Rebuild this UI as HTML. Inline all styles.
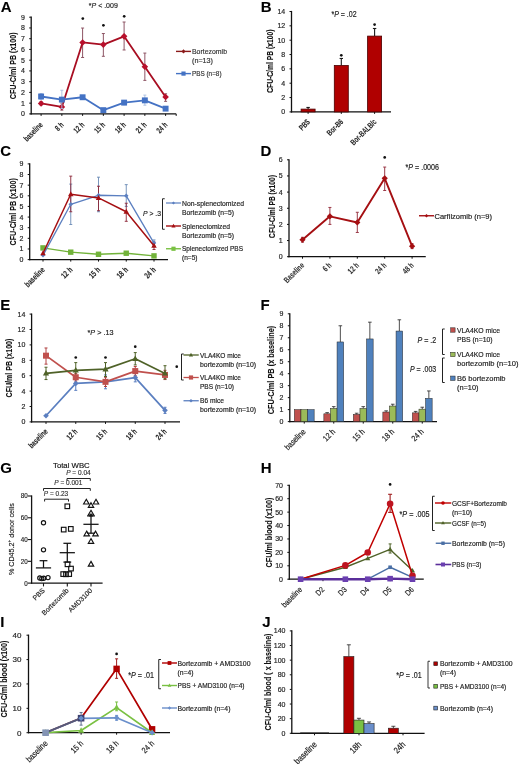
<!DOCTYPE html>
<html><head><meta charset="utf-8"><style>
html,body{margin:0;padding:0;background:#fff;}
svg{display:block;filter:blur(0.3px);}
text{font-family:"Liberation Sans", sans-serif;}
</style></head><body>
<svg width="520" height="764" viewBox="0 0 520 764">
<rect width="520" height="764" fill="#fff"/>
<line x1="31.20" y1="16.60" x2="31.20" y2="114.50" stroke="#111" stroke-width="1.3"/>
<line x1="30.60" y1="113.90" x2="176.20" y2="113.90" stroke="#111" stroke-width="1.3"/>
<line x1="29.20" y1="113.90" x2="31.20" y2="113.90" stroke="#111" stroke-width="1.0"/>
<text transform="translate(24.90,116.42)" font-size="7.0" fill="#262626" stroke="#262626" stroke-width="0.18" text-anchor="end">0</text>
<line x1="29.20" y1="103.16" x2="31.20" y2="103.16" stroke="#111" stroke-width="1.0"/>
<text transform="translate(24.90,105.68)" font-size="7.0" fill="#262626" stroke="#262626" stroke-width="0.18" text-anchor="end">1</text>
<line x1="29.20" y1="92.41" x2="31.20" y2="92.41" stroke="#111" stroke-width="1.0"/>
<text transform="translate(24.90,94.93)" font-size="7.0" fill="#262626" stroke="#262626" stroke-width="0.18" text-anchor="end">2</text>
<line x1="29.20" y1="81.67" x2="31.20" y2="81.67" stroke="#111" stroke-width="1.0"/>
<text transform="translate(24.90,84.19)" font-size="7.0" fill="#262626" stroke="#262626" stroke-width="0.18" text-anchor="end">3</text>
<line x1="29.20" y1="70.92" x2="31.20" y2="70.92" stroke="#111" stroke-width="1.0"/>
<text transform="translate(24.90,73.44)" font-size="7.0" fill="#262626" stroke="#262626" stroke-width="0.18" text-anchor="end">4</text>
<line x1="29.20" y1="60.18" x2="31.20" y2="60.18" stroke="#111" stroke-width="1.0"/>
<text transform="translate(24.90,62.70)" font-size="7.0" fill="#262626" stroke="#262626" stroke-width="0.18" text-anchor="end">5</text>
<line x1="29.20" y1="49.43" x2="31.20" y2="49.43" stroke="#111" stroke-width="1.0"/>
<text transform="translate(24.90,51.95)" font-size="7.0" fill="#262626" stroke="#262626" stroke-width="0.18" text-anchor="end">6</text>
<line x1="29.20" y1="38.69" x2="31.20" y2="38.69" stroke="#111" stroke-width="1.0"/>
<text transform="translate(24.90,41.21)" font-size="7.0" fill="#262626" stroke="#262626" stroke-width="0.18" text-anchor="end">7</text>
<line x1="29.20" y1="27.94" x2="31.20" y2="27.94" stroke="#111" stroke-width="1.0"/>
<text transform="translate(24.90,30.46)" font-size="7.0" fill="#262626" stroke="#262626" stroke-width="0.18" text-anchor="end">8</text>
<line x1="29.20" y1="17.20" x2="31.20" y2="17.20" stroke="#111" stroke-width="1.0"/>
<text transform="translate(24.90,19.72)" font-size="7.0" fill="#262626" stroke="#262626" stroke-width="0.18" text-anchor="end">9</text>
<line x1="41.10" y1="113.90" x2="41.10" y2="115.90" stroke="#111" stroke-width="1.0"/>
<line x1="61.85" y1="113.90" x2="61.85" y2="115.90" stroke="#111" stroke-width="1.0"/>
<line x1="82.60" y1="113.90" x2="82.60" y2="115.90" stroke="#111" stroke-width="1.0"/>
<line x1="103.35" y1="113.90" x2="103.35" y2="115.90" stroke="#111" stroke-width="1.0"/>
<line x1="124.10" y1="113.90" x2="124.10" y2="115.90" stroke="#111" stroke-width="1.0"/>
<line x1="144.85" y1="113.90" x2="144.85" y2="115.90" stroke="#111" stroke-width="1.0"/>
<line x1="165.60" y1="113.90" x2="165.60" y2="115.90" stroke="#111" stroke-width="1.0"/>
<line x1="176.20" y1="113.90" x2="176.20" y2="115.90" stroke="#111" stroke-width="1.0"/>
<text transform="translate(43.40,125.50) rotate(-45) scale(0.7,1)" font-size="8.3" fill="#1e1e1e" stroke="#1e1e1e" stroke-width="0.08" text-anchor="end" font-weight="bold">baseline</text>
<text transform="translate(64.15,125.50) rotate(-45) scale(0.7,1)" font-size="8.3" fill="#1e1e1e" stroke="#1e1e1e" stroke-width="0.08" text-anchor="end" font-weight="bold">8 h</text>
<text transform="translate(84.90,125.50) rotate(-45) scale(0.7,1)" font-size="8.3" fill="#1e1e1e" stroke="#1e1e1e" stroke-width="0.08" text-anchor="end" font-weight="bold">12 h</text>
<text transform="translate(105.65,125.50) rotate(-45) scale(0.7,1)" font-size="8.3" fill="#1e1e1e" stroke="#1e1e1e" stroke-width="0.08" text-anchor="end" font-weight="bold">15 h</text>
<text transform="translate(126.40,125.50) rotate(-45) scale(0.7,1)" font-size="8.3" fill="#1e1e1e" stroke="#1e1e1e" stroke-width="0.08" text-anchor="end" font-weight="bold">18 h</text>
<text transform="translate(147.15,125.50) rotate(-45) scale(0.7,1)" font-size="8.3" fill="#1e1e1e" stroke="#1e1e1e" stroke-width="0.08" text-anchor="end" font-weight="bold">21 h</text>
<text transform="translate(167.90,125.50) rotate(-45) scale(0.7,1)" font-size="8.3" fill="#1e1e1e" stroke="#1e1e1e" stroke-width="0.08" text-anchor="end" font-weight="bold">24 h</text>
<text transform="translate(16.20,65.80) rotate(-90)" font-size="8.2" fill="#111" stroke="#111" stroke-width="0.08" text-anchor="middle" font-weight="bold" textLength="66.80" lengthAdjust="spacingAndGlyphs">CFU-C/ml PB (x100)</text>
<text transform="translate(0.80,11.80)" font-size="15" fill="#000" stroke="#000" stroke-width="0.08" font-weight="bold">A</text>
<text transform="translate(88.80,7.80)" font-size="8" fill="#222" stroke="#222" stroke-width="0.18" textLength="29.00" lengthAdjust="spacingAndGlyphs">*<tspan font-style="italic">P</tspan> &lt; .009</text>
<line x1="41.10" y1="104.77" x2="41.10" y2="101.54" stroke="#8E5565" stroke-width="1.0"/>
<line x1="39.60" y1="104.77" x2="42.60" y2="104.77" stroke="#8E5565" stroke-width="1.0"/>
<line x1="39.60" y1="101.54" x2="42.60" y2="101.54" stroke="#8E5565" stroke-width="1.0"/>
<line x1="61.85" y1="110.14" x2="61.85" y2="103.16" stroke="#8E5565" stroke-width="1.0"/>
<line x1="60.35" y1="110.14" x2="63.35" y2="110.14" stroke="#8E5565" stroke-width="1.0"/>
<line x1="60.35" y1="103.16" x2="63.35" y2="103.16" stroke="#8E5565" stroke-width="1.0"/>
<line x1="82.60" y1="57.49" x2="82.60" y2="28.05" stroke="#8E5565" stroke-width="1.0"/>
<line x1="81.10" y1="57.49" x2="84.10" y2="57.49" stroke="#8E5565" stroke-width="1.0"/>
<line x1="81.10" y1="28.05" x2="84.10" y2="28.05" stroke="#8E5565" stroke-width="1.0"/>
<line x1="103.35" y1="56.31" x2="103.35" y2="33.53" stroke="#8E5565" stroke-width="1.0"/>
<line x1="101.85" y1="56.31" x2="104.85" y2="56.31" stroke="#8E5565" stroke-width="1.0"/>
<line x1="101.85" y1="33.53" x2="104.85" y2="33.53" stroke="#8E5565" stroke-width="1.0"/>
<line x1="124.10" y1="49.97" x2="124.10" y2="22.03" stroke="#8E5565" stroke-width="1.0"/>
<line x1="122.60" y1="49.97" x2="125.60" y2="49.97" stroke="#8E5565" stroke-width="1.0"/>
<line x1="122.60" y1="22.03" x2="125.60" y2="22.03" stroke="#8E5565" stroke-width="1.0"/>
<line x1="144.85" y1="80.38" x2="144.85" y2="53.09" stroke="#8E5565" stroke-width="1.0"/>
<line x1="143.35" y1="80.38" x2="146.35" y2="80.38" stroke="#8E5565" stroke-width="1.0"/>
<line x1="143.35" y1="53.09" x2="146.35" y2="53.09" stroke="#8E5565" stroke-width="1.0"/>
<line x1="165.60" y1="101.33" x2="165.60" y2="93.81" stroke="#8E5565" stroke-width="1.0"/>
<line x1="164.10" y1="101.33" x2="167.10" y2="101.33" stroke="#8E5565" stroke-width="1.0"/>
<line x1="164.10" y1="93.81" x2="167.10" y2="93.81" stroke="#8E5565" stroke-width="1.0"/>
<polyline points="41.10,103.48 61.85,106.92 82.60,42.45 103.35,44.60 124.10,36.33 144.85,66.73 165.60,97.03" fill="none" stroke="#A80E22" stroke-width="1.8" stroke-linejoin="round"/>
<path d="M41.10,100.18L44.40,103.48L41.10,106.78L37.80,103.48Z" fill="#B8102C"/>
<path d="M61.85,103.62L65.15,106.92L61.85,110.22L58.55,106.92Z" fill="#B8102C"/>
<path d="M82.60,39.15L85.90,42.45L82.60,45.75L79.30,42.45Z" fill="#B8102C"/>
<path d="M103.35,41.30L106.65,44.60L103.35,47.90L100.05,44.60Z" fill="#B8102C"/>
<path d="M124.10,33.03L127.40,36.33L124.10,39.63L120.80,36.33Z" fill="#B8102C"/>
<path d="M144.85,63.43L148.15,66.73L144.85,70.03L141.55,66.73Z" fill="#B8102C"/>
<path d="M165.60,93.73L168.90,97.03L165.60,100.33L162.30,97.03Z" fill="#B8102C"/>
<line x1="41.10" y1="99.40" x2="41.10" y2="93.49" stroke="#A8BDE0" stroke-width="0.9"/>
<line x1="39.60" y1="99.40" x2="42.60" y2="99.40" stroke="#A8BDE0" stroke-width="0.9"/>
<line x1="39.60" y1="93.49" x2="42.60" y2="93.49" stroke="#A8BDE0" stroke-width="0.9"/>
<line x1="61.85" y1="108.53" x2="61.85" y2="90.26" stroke="#A8BDE0" stroke-width="0.9"/>
<line x1="60.35" y1="108.53" x2="63.35" y2="108.53" stroke="#A8BDE0" stroke-width="0.9"/>
<line x1="60.35" y1="90.26" x2="63.35" y2="90.26" stroke="#A8BDE0" stroke-width="0.9"/>
<line x1="124.10" y1="104.77" x2="124.10" y2="100.47" stroke="#A8BDE0" stroke-width="0.9"/>
<line x1="122.60" y1="104.77" x2="125.60" y2="104.77" stroke="#A8BDE0" stroke-width="0.9"/>
<line x1="122.60" y1="100.47" x2="125.60" y2="100.47" stroke="#A8BDE0" stroke-width="0.9"/>
<line x1="144.85" y1="105.20" x2="144.85" y2="95.10" stroke="#A8BDE0" stroke-width="0.9"/>
<line x1="143.35" y1="105.20" x2="146.35" y2="105.20" stroke="#A8BDE0" stroke-width="0.9"/>
<line x1="143.35" y1="95.10" x2="146.35" y2="95.10" stroke="#A8BDE0" stroke-width="0.9"/>
<polyline points="41.10,96.49 61.85,99.61 82.60,97.25 103.35,110.14 124.10,102.62 144.85,100.36 165.60,108.64" fill="none" stroke="#4472C4" stroke-width="1.8" stroke-linejoin="round"/>
<rect x="38.15" y="93.54" width="5.90" height="5.90" fill="#4472C4"/>
<rect x="58.90" y="96.66" width="5.90" height="5.90" fill="#4472C4"/>
<rect x="79.65" y="94.30" width="5.90" height="5.90" fill="#4472C4"/>
<rect x="100.40" y="107.19" width="5.90" height="5.90" fill="#4472C4"/>
<rect x="121.15" y="99.67" width="5.90" height="5.90" fill="#4472C4"/>
<rect x="141.90" y="97.41" width="5.90" height="5.90" fill="#4472C4"/>
<rect x="162.65" y="105.69" width="5.90" height="5.90" fill="#4472C4"/>
<circle cx="82.80" cy="18.60" r="1.35" fill="#111"/>
<circle cx="103.40" cy="25.30" r="1.35" fill="#111"/>
<circle cx="124.20" cy="16.30" r="1.35" fill="#111"/>
<line x1="176.00" y1="51.40" x2="191.00" y2="51.40" stroke="#8B1A1A" stroke-width="1.4"/>
<path d="M183.50,49.30L185.60,51.40L183.50,53.50L181.40,51.40Z" fill="#8B1A1A"/>
<text transform="translate(192.00,54.00)" font-size="7.6" fill="#333" stroke="#333" stroke-width="0.18" textLength="35.00" lengthAdjust="spacingAndGlyphs">Bortezomib</text>
<text transform="translate(192.00,62.60)" font-size="7.6" fill="#333" stroke="#333" stroke-width="0.18" textLength="21.00" lengthAdjust="spacingAndGlyphs">(n=13)</text>
<line x1="176.00" y1="73.60" x2="191.00" y2="73.60" stroke="#4472C4" stroke-width="1.4"/>
<rect x="181.40" y="71.50" width="4.20" height="4.20" fill="#4472C4"/>
<text transform="translate(192.00,76.10)" font-size="7.6" fill="#333" stroke="#333" stroke-width="0.18" textLength="29.50" lengthAdjust="spacingAndGlyphs">PBS (n=8)</text>
<line x1="291.50" y1="10.90" x2="291.50" y2="112.50" stroke="#111" stroke-width="1.3"/>
<line x1="290.90" y1="111.90" x2="391.00" y2="111.90" stroke="#111" stroke-width="1.3"/>
<line x1="289.50" y1="111.90" x2="291.50" y2="111.90" stroke="#111" stroke-width="1.0"/>
<text transform="translate(285.20,114.42)" font-size="7.0" fill="#262626" stroke="#262626" stroke-width="0.18" text-anchor="end">0</text>
<line x1="289.50" y1="97.56" x2="291.50" y2="97.56" stroke="#111" stroke-width="1.0"/>
<text transform="translate(285.20,100.08)" font-size="7.0" fill="#262626" stroke="#262626" stroke-width="0.18" text-anchor="end">2</text>
<line x1="289.50" y1="83.21" x2="291.50" y2="83.21" stroke="#111" stroke-width="1.0"/>
<text transform="translate(285.20,85.73)" font-size="7.0" fill="#262626" stroke="#262626" stroke-width="0.18" text-anchor="end">4</text>
<line x1="289.50" y1="68.87" x2="291.50" y2="68.87" stroke="#111" stroke-width="1.0"/>
<text transform="translate(285.20,71.39)" font-size="7.0" fill="#262626" stroke="#262626" stroke-width="0.18" text-anchor="end">6</text>
<line x1="289.50" y1="54.53" x2="291.50" y2="54.53" stroke="#111" stroke-width="1.0"/>
<text transform="translate(285.20,57.05)" font-size="7.0" fill="#262626" stroke="#262626" stroke-width="0.18" text-anchor="end">8</text>
<line x1="289.50" y1="40.19" x2="291.50" y2="40.19" stroke="#111" stroke-width="1.0"/>
<text transform="translate(285.20,42.71)" font-size="7.0" fill="#262626" stroke="#262626" stroke-width="0.18" text-anchor="end">10</text>
<line x1="289.50" y1="25.84" x2="291.50" y2="25.84" stroke="#111" stroke-width="1.0"/>
<text transform="translate(285.20,28.36)" font-size="7.0" fill="#262626" stroke="#262626" stroke-width="0.18" text-anchor="end">12</text>
<line x1="289.50" y1="11.50" x2="291.50" y2="11.50" stroke="#111" stroke-width="1.0"/>
<text transform="translate(285.20,14.02)" font-size="7.0" fill="#262626" stroke="#262626" stroke-width="0.18" text-anchor="end">14</text>
<line x1="308.10" y1="111.90" x2="308.10" y2="113.90" stroke="#111" stroke-width="1.0"/>
<line x1="341.30" y1="111.90" x2="341.30" y2="113.90" stroke="#111" stroke-width="1.0"/>
<line x1="374.60" y1="111.90" x2="374.60" y2="113.90" stroke="#111" stroke-width="1.0"/>
<text transform="translate(310.60,122.50) rotate(-45) scale(0.7,1)" font-size="8.3" fill="#1e1e1e" stroke="#1e1e1e" stroke-width="0.08" text-anchor="end" font-weight="bold">PBS</text>
<text transform="translate(343.80,122.50) rotate(-45) scale(0.7,1)" font-size="8.3" fill="#1e1e1e" stroke="#1e1e1e" stroke-width="0.08" text-anchor="end" font-weight="bold">Bor-B6</text>
<text transform="translate(377.10,122.50) rotate(-45) scale(0.7,1)" font-size="8.3" fill="#1e1e1e" stroke="#1e1e1e" stroke-width="0.08" text-anchor="end" font-weight="bold">Bor-BALB/c</text>
<text transform="translate(273.20,61.20) rotate(-90)" font-size="8.2" fill="#111" stroke="#111" stroke-width="0.08" text-anchor="middle" font-weight="bold" textLength="63.30" lengthAdjust="spacingAndGlyphs">CFU-C/ml PB (x100)</text>
<text transform="translate(260.80,11.50)" font-size="15" fill="#000" stroke="#000" stroke-width="0.08" font-weight="bold">B</text>
<text transform="translate(331.40,16.80)" font-size="9" fill="#222" stroke="#222" stroke-width="0.18" textLength="25.20" lengthAdjust="spacingAndGlyphs">*<tspan font-style="italic">P</tspan> = .02</text>
<line x1="308.10" y1="109.10" x2="308.10" y2="107.45" stroke="#1a1a1a" stroke-width="1.1"/>
<line x1="306.40" y1="107.45" x2="309.80" y2="107.45" stroke="#1a1a1a" stroke-width="1.1"/>
<rect x="301.10" y="109.10" width="14.00" height="2.80" fill="#B00000" stroke="#4A0000" stroke-width="0.8"/>
<line x1="341.30" y1="65.50" x2="341.30" y2="58.47" stroke="#1a1a1a" stroke-width="1.1"/>
<line x1="339.60" y1="58.47" x2="343.00" y2="58.47" stroke="#1a1a1a" stroke-width="1.1"/>
<rect x="334.30" y="65.50" width="14.00" height="46.40" fill="#B00000" stroke="#4A0000" stroke-width="0.8"/>
<line x1="374.60" y1="36.10" x2="374.60" y2="28.50" stroke="#1a1a1a" stroke-width="1.1"/>
<line x1="372.90" y1="28.50" x2="376.30" y2="28.50" stroke="#1a1a1a" stroke-width="1.1"/>
<rect x="367.60" y="36.10" width="14.00" height="75.80" fill="#B00000" stroke="#4A0000" stroke-width="0.8"/>
<circle cx="341.30" cy="55.30" r="1.35" fill="#111"/>
<circle cx="374.60" cy="24.60" r="1.35" fill="#111"/>
<line x1="29.70" y1="163.30" x2="29.70" y2="260.20" stroke="#111" stroke-width="1.3"/>
<line x1="29.10" y1="259.60" x2="168.00" y2="259.60" stroke="#111" stroke-width="1.3"/>
<line x1="27.70" y1="259.60" x2="29.70" y2="259.60" stroke="#111" stroke-width="1.0"/>
<text transform="translate(23.40,262.12)" font-size="7.0" fill="#262626" stroke="#262626" stroke-width="0.18" text-anchor="end">0</text>
<line x1="27.70" y1="248.97" x2="29.70" y2="248.97" stroke="#111" stroke-width="1.0"/>
<text transform="translate(23.40,251.49)" font-size="7.0" fill="#262626" stroke="#262626" stroke-width="0.18" text-anchor="end">1</text>
<line x1="27.70" y1="238.33" x2="29.70" y2="238.33" stroke="#111" stroke-width="1.0"/>
<text transform="translate(23.40,240.85)" font-size="7.0" fill="#262626" stroke="#262626" stroke-width="0.18" text-anchor="end">2</text>
<line x1="27.70" y1="227.70" x2="29.70" y2="227.70" stroke="#111" stroke-width="1.0"/>
<text transform="translate(23.40,230.22)" font-size="7.0" fill="#262626" stroke="#262626" stroke-width="0.18" text-anchor="end">3</text>
<line x1="27.70" y1="217.07" x2="29.70" y2="217.07" stroke="#111" stroke-width="1.0"/>
<text transform="translate(23.40,219.59)" font-size="7.0" fill="#262626" stroke="#262626" stroke-width="0.18" text-anchor="end">4</text>
<line x1="27.70" y1="206.43" x2="29.70" y2="206.43" stroke="#111" stroke-width="1.0"/>
<text transform="translate(23.40,208.95)" font-size="7.0" fill="#262626" stroke="#262626" stroke-width="0.18" text-anchor="end">5</text>
<line x1="27.70" y1="195.80" x2="29.70" y2="195.80" stroke="#111" stroke-width="1.0"/>
<text transform="translate(23.40,198.32)" font-size="7.0" fill="#262626" stroke="#262626" stroke-width="0.18" text-anchor="end">6</text>
<line x1="27.70" y1="185.17" x2="29.70" y2="185.17" stroke="#111" stroke-width="1.0"/>
<text transform="translate(23.40,187.69)" font-size="7.0" fill="#262626" stroke="#262626" stroke-width="0.18" text-anchor="end">7</text>
<line x1="27.70" y1="174.53" x2="29.70" y2="174.53" stroke="#111" stroke-width="1.0"/>
<text transform="translate(23.40,177.05)" font-size="7.0" fill="#262626" stroke="#262626" stroke-width="0.18" text-anchor="end">8</text>
<line x1="27.70" y1="163.90" x2="29.70" y2="163.90" stroke="#111" stroke-width="1.0"/>
<text transform="translate(23.40,166.42)" font-size="7.0" fill="#262626" stroke="#262626" stroke-width="0.18" text-anchor="end">9</text>
<line x1="43.00" y1="259.60" x2="43.00" y2="261.60" stroke="#111" stroke-width="1.0"/>
<line x1="70.75" y1="259.60" x2="70.75" y2="261.60" stroke="#111" stroke-width="1.0"/>
<line x1="98.50" y1="259.60" x2="98.50" y2="261.60" stroke="#111" stroke-width="1.0"/>
<line x1="126.25" y1="259.60" x2="126.25" y2="261.60" stroke="#111" stroke-width="1.0"/>
<line x1="154.00" y1="259.60" x2="154.00" y2="261.60" stroke="#111" stroke-width="1.0"/>
<text transform="translate(45.30,270.40) rotate(-45) scale(0.72,1)" font-size="8.5" fill="#1e1e1e" stroke="#1e1e1e" stroke-width="0.08" text-anchor="end" font-weight="bold">baseline</text>
<text transform="translate(73.05,270.40) rotate(-45) scale(0.72,1)" font-size="8.5" fill="#1e1e1e" stroke="#1e1e1e" stroke-width="0.08" text-anchor="end" font-weight="bold">12 h</text>
<text transform="translate(100.80,270.40) rotate(-45) scale(0.72,1)" font-size="8.5" fill="#1e1e1e" stroke="#1e1e1e" stroke-width="0.08" text-anchor="end" font-weight="bold">15 h</text>
<text transform="translate(128.55,270.40) rotate(-45) scale(0.72,1)" font-size="8.5" fill="#1e1e1e" stroke="#1e1e1e" stroke-width="0.08" text-anchor="end" font-weight="bold">18 h</text>
<text transform="translate(156.30,270.40) rotate(-45) scale(0.72,1)" font-size="8.5" fill="#1e1e1e" stroke="#1e1e1e" stroke-width="0.08" text-anchor="end" font-weight="bold">24 h</text>
<text transform="translate(15.70,211.80) rotate(-90)" font-size="8.2" fill="#111" stroke="#111" stroke-width="0.08" text-anchor="middle" font-weight="bold" textLength="67.40" lengthAdjust="spacingAndGlyphs">CFU-C/ml PB (x100)</text>
<text transform="translate(0.30,156.10)" font-size="15" fill="#000" stroke="#000" stroke-width="0.08" font-weight="bold">C</text>
<line x1="70.75" y1="224.51" x2="70.75" y2="184.10" stroke="#6A8AB5" stroke-width="0.9"/>
<line x1="69.25" y1="224.51" x2="72.25" y2="224.51" stroke="#6A8AB5" stroke-width="0.9"/>
<line x1="69.25" y1="184.10" x2="72.25" y2="184.10" stroke="#6A8AB5" stroke-width="0.9"/>
<line x1="98.50" y1="211.75" x2="98.50" y2="177.19" stroke="#6A8AB5" stroke-width="0.9"/>
<line x1="97.00" y1="211.75" x2="100.00" y2="211.75" stroke="#6A8AB5" stroke-width="0.9"/>
<line x1="97.00" y1="177.19" x2="100.00" y2="177.19" stroke="#6A8AB5" stroke-width="0.9"/>
<line x1="126.25" y1="206.43" x2="126.25" y2="184.64" stroke="#6A8AB5" stroke-width="0.9"/>
<line x1="124.75" y1="206.43" x2="127.75" y2="206.43" stroke="#6A8AB5" stroke-width="0.9"/>
<line x1="124.75" y1="184.64" x2="127.75" y2="184.64" stroke="#6A8AB5" stroke-width="0.9"/>
<line x1="154.00" y1="246.31" x2="154.00" y2="239.93" stroke="#6A8AB5" stroke-width="0.9"/>
<line x1="152.50" y1="246.31" x2="155.50" y2="246.31" stroke="#6A8AB5" stroke-width="0.9"/>
<line x1="152.50" y1="239.93" x2="155.50" y2="239.93" stroke="#6A8AB5" stroke-width="0.9"/>
<line x1="70.75" y1="211.75" x2="70.75" y2="176.13" stroke="#8B2535" stroke-width="0.9"/>
<line x1="69.25" y1="211.75" x2="72.25" y2="211.75" stroke="#8B2535" stroke-width="0.9"/>
<line x1="69.25" y1="176.13" x2="72.25" y2="176.13" stroke="#8B2535" stroke-width="0.9"/>
<line x1="98.50" y1="210.69" x2="98.50" y2="186.23" stroke="#8B2535" stroke-width="0.9"/>
<line x1="97.00" y1="210.69" x2="100.00" y2="210.69" stroke="#8B2535" stroke-width="0.9"/>
<line x1="97.00" y1="186.23" x2="100.00" y2="186.23" stroke="#8B2535" stroke-width="0.9"/>
<line x1="126.25" y1="221.32" x2="126.25" y2="203.24" stroke="#8B2535" stroke-width="0.9"/>
<line x1="124.75" y1="221.32" x2="127.75" y2="221.32" stroke="#8B2535" stroke-width="0.9"/>
<line x1="124.75" y1="203.24" x2="127.75" y2="203.24" stroke="#8B2535" stroke-width="0.9"/>
<line x1="154.00" y1="249.50" x2="154.00" y2="242.06" stroke="#8B2535" stroke-width="0.9"/>
<line x1="152.50" y1="249.50" x2="155.50" y2="249.50" stroke="#8B2535" stroke-width="0.9"/>
<line x1="152.50" y1="242.06" x2="155.50" y2="242.06" stroke="#8B2535" stroke-width="0.9"/>
<polyline points="43.00,247.90 70.75,252.16 98.50,254.28 126.25,253.22 154.00,255.88" fill="none" stroke="#72B33A" stroke-width="1.4" stroke-linejoin="round"/>
<rect x="40.30" y="245.20" width="5.40" height="5.40" fill="#72B33A"/>
<rect x="68.05" y="249.46" width="5.40" height="5.40" fill="#72B33A"/>
<rect x="95.80" y="251.58" width="5.40" height="5.40" fill="#72B33A"/>
<rect x="123.55" y="250.52" width="5.40" height="5.40" fill="#72B33A"/>
<rect x="151.30" y="253.18" width="5.40" height="5.40" fill="#72B33A"/>
<polyline points="43.00,255.35 70.75,204.31 98.50,195.27 126.25,195.80 154.00,243.12" fill="none" stroke="#5B7FC0" stroke-width="1.3" stroke-linejoin="round"/>
<path d="M43.00,253.10L45.25,255.35L43.00,257.60L40.75,255.35Z" fill="#5B7FC0"/>
<path d="M70.75,202.06L73.00,204.31L70.75,206.56L68.50,204.31Z" fill="#5B7FC0"/>
<path d="M98.50,193.02L100.75,195.27L98.50,197.52L96.25,195.27Z" fill="#5B7FC0"/>
<path d="M126.25,193.55L128.50,195.80L126.25,198.05L124.00,195.80Z" fill="#5B7FC0"/>
<path d="M154.00,240.87L156.25,243.12L154.00,245.37L151.75,243.12Z" fill="#5B7FC0"/>
<polyline points="43.00,253.22 70.75,194.20 98.50,197.93 126.25,211.75 154.00,245.78" fill="none" stroke="#A50F12" stroke-width="1.5" stroke-linejoin="round"/>
<path d="M43.00,250.25L45.75,255.20L40.25,255.20Z" fill="#A50F12"/>
<path d="M70.75,191.23L73.50,196.18L68.00,196.18Z" fill="#A50F12"/>
<path d="M98.50,194.96L101.25,199.91L95.75,199.91Z" fill="#A50F12"/>
<path d="M126.25,208.78L129.00,213.73L123.50,213.73Z" fill="#A50F12"/>
<path d="M154.00,242.81L156.75,247.76L151.25,247.76Z" fill="#A50F12"/>
<text transform="translate(143.00,215.50)" font-size="8" fill="#222" stroke="#222" stroke-width="0.18" textLength="18.00" lengthAdjust="spacingAndGlyphs"><tspan font-style="italic">P</tspan> &gt; .3</text>
<path d="M164.70,198.75H162.50V229.25H164.70" fill="none" stroke="#222" stroke-width="1.0"/>
<line x1="166.00" y1="203.00" x2="181.00" y2="203.00" stroke="#5B7FC0" stroke-width="1.2"/>
<path d="M173.50,201.40L175.10,203.00L173.50,204.60L171.90,203.00Z" fill="#5B7FC0"/>
<text transform="translate(182.00,205.50)" font-size="7.4" fill="#222" stroke="#222" stroke-width="0.18" textLength="62.00" lengthAdjust="spacingAndGlyphs">Non-splenectomized</text>
<text transform="translate(182.00,214.50)" font-size="7.4" fill="#222" stroke="#222" stroke-width="0.18" textLength="52.00" lengthAdjust="spacingAndGlyphs">Bortezomib (n=5)</text>
<line x1="166.00" y1="226.00" x2="181.00" y2="226.00" stroke="#A50F12" stroke-width="1.4"/>
<path d="M173.50,223.73L175.60,227.51L171.40,227.51Z" fill="#A50F12"/>
<text transform="translate(182.00,228.50)" font-size="7.4" fill="#222" stroke="#222" stroke-width="0.18" textLength="48.00" lengthAdjust="spacingAndGlyphs">Splenectomized</text>
<text transform="translate(182.00,237.50)" font-size="7.4" fill="#222" stroke="#222" stroke-width="0.18" textLength="52.00" lengthAdjust="spacingAndGlyphs">Bortezomib (n=5)</text>
<line x1="166.00" y1="248.75" x2="181.00" y2="248.75" stroke="#7AC143" stroke-width="1.4"/>
<rect x="171.40" y="246.65" width="4.20" height="4.20" fill="#7AC143"/>
<text transform="translate(182.00,251.25)" font-size="7.4" fill="#222" stroke="#222" stroke-width="0.18" textLength="61.00" lengthAdjust="spacingAndGlyphs">Splenectomized PBS</text>
<text transform="translate(182.00,260.00)" font-size="7.4" fill="#222" stroke="#222" stroke-width="0.18" textLength="15.50" lengthAdjust="spacingAndGlyphs">(n=5)</text>
<line x1="289.00" y1="159.20" x2="289.00" y2="257.30" stroke="#111" stroke-width="1.3"/>
<line x1="288.40" y1="256.70" x2="425.75" y2="256.70" stroke="#111" stroke-width="1.3"/>
<line x1="287.00" y1="256.70" x2="289.00" y2="256.70" stroke="#111" stroke-width="1.0"/>
<text transform="translate(282.70,259.22)" font-size="7.0" fill="#262626" stroke="#262626" stroke-width="0.18" text-anchor="end">0</text>
<line x1="287.00" y1="240.55" x2="289.00" y2="240.55" stroke="#111" stroke-width="1.0"/>
<text transform="translate(282.70,243.07)" font-size="7.0" fill="#262626" stroke="#262626" stroke-width="0.18" text-anchor="end">1</text>
<line x1="287.00" y1="224.40" x2="289.00" y2="224.40" stroke="#111" stroke-width="1.0"/>
<text transform="translate(282.70,226.92)" font-size="7.0" fill="#262626" stroke="#262626" stroke-width="0.18" text-anchor="end">2</text>
<line x1="287.00" y1="208.25" x2="289.00" y2="208.25" stroke="#111" stroke-width="1.0"/>
<text transform="translate(282.70,210.77)" font-size="7.0" fill="#262626" stroke="#262626" stroke-width="0.18" text-anchor="end">3</text>
<line x1="287.00" y1="192.10" x2="289.00" y2="192.10" stroke="#111" stroke-width="1.0"/>
<text transform="translate(282.70,194.62)" font-size="7.0" fill="#262626" stroke="#262626" stroke-width="0.18" text-anchor="end">4</text>
<line x1="287.00" y1="175.95" x2="289.00" y2="175.95" stroke="#111" stroke-width="1.0"/>
<text transform="translate(282.70,178.47)" font-size="7.0" fill="#262626" stroke="#262626" stroke-width="0.18" text-anchor="end">5</text>
<line x1="287.00" y1="159.80" x2="289.00" y2="159.80" stroke="#111" stroke-width="1.0"/>
<text transform="translate(282.70,162.32)" font-size="7.0" fill="#262626" stroke="#262626" stroke-width="0.18" text-anchor="end">6</text>
<line x1="302.50" y1="256.70" x2="302.50" y2="258.70" stroke="#111" stroke-width="1.0"/>
<line x1="329.90" y1="256.70" x2="329.90" y2="258.70" stroke="#111" stroke-width="1.0"/>
<line x1="357.30" y1="256.70" x2="357.30" y2="258.70" stroke="#111" stroke-width="1.0"/>
<line x1="384.70" y1="256.70" x2="384.70" y2="258.70" stroke="#111" stroke-width="1.0"/>
<line x1="412.10" y1="256.70" x2="412.10" y2="258.70" stroke="#111" stroke-width="1.0"/>
<text transform="translate(304.80,265.90) rotate(-45) scale(0.72,1)" font-size="8.4" fill="#333" stroke="#333" stroke-width="0.08" text-anchor="end" font-weight="bold">Baseline</text>
<text transform="translate(332.20,265.90) rotate(-45) scale(0.72,1)" font-size="8.4" fill="#333" stroke="#333" stroke-width="0.08" text-anchor="end" font-weight="bold">6 h</text>
<text transform="translate(359.60,265.90) rotate(-45) scale(0.72,1)" font-size="8.4" fill="#333" stroke="#333" stroke-width="0.08" text-anchor="end" font-weight="bold">12 h</text>
<text transform="translate(387.00,265.90) rotate(-45) scale(0.72,1)" font-size="8.4" fill="#333" stroke="#333" stroke-width="0.08" text-anchor="end" font-weight="bold">24 h</text>
<text transform="translate(414.40,265.90) rotate(-45) scale(0.72,1)" font-size="8.4" fill="#333" stroke="#333" stroke-width="0.08" text-anchor="end" font-weight="bold">48 h</text>
<text transform="translate(274.80,206.50) rotate(-90)" font-size="8.2" fill="#111" stroke="#111" stroke-width="0.08" text-anchor="middle" font-weight="bold" textLength="62.90" lengthAdjust="spacingAndGlyphs">CFU-C/ml PB (x100)</text>
<text transform="translate(260.60,156.40)" font-size="15" fill="#000" stroke="#000" stroke-width="0.08" font-weight="bold">D</text>
<line x1="302.50" y1="242.16" x2="302.50" y2="237.32" stroke="#9B3A48" stroke-width="1.0"/>
<line x1="301.00" y1="242.16" x2="304.00" y2="242.16" stroke="#9B3A48" stroke-width="1.0"/>
<line x1="301.00" y1="237.32" x2="304.00" y2="237.32" stroke="#9B3A48" stroke-width="1.0"/>
<line x1="329.90" y1="224.40" x2="329.90" y2="207.44" stroke="#9B3A48" stroke-width="1.0"/>
<line x1="328.40" y1="224.40" x2="331.40" y2="224.40" stroke="#9B3A48" stroke-width="1.0"/>
<line x1="328.40" y1="207.44" x2="331.40" y2="207.44" stroke="#9B3A48" stroke-width="1.0"/>
<line x1="357.30" y1="232.47" x2="357.30" y2="212.29" stroke="#9B3A48" stroke-width="1.0"/>
<line x1="355.80" y1="232.47" x2="358.80" y2="232.47" stroke="#9B3A48" stroke-width="1.0"/>
<line x1="355.80" y1="212.29" x2="358.80" y2="212.29" stroke="#9B3A48" stroke-width="1.0"/>
<line x1="384.70" y1="190.49" x2="384.70" y2="167.07" stroke="#9B3A48" stroke-width="1.0"/>
<line x1="383.20" y1="190.49" x2="386.20" y2="190.49" stroke="#9B3A48" stroke-width="1.0"/>
<line x1="383.20" y1="167.07" x2="386.20" y2="167.07" stroke="#9B3A48" stroke-width="1.0"/>
<line x1="412.10" y1="248.62" x2="412.10" y2="243.78" stroke="#9B3A48" stroke-width="1.0"/>
<line x1="410.60" y1="248.62" x2="413.60" y2="248.62" stroke="#9B3A48" stroke-width="1.0"/>
<line x1="410.60" y1="243.78" x2="413.60" y2="243.78" stroke="#9B3A48" stroke-width="1.0"/>
<polyline points="302.50,239.74 329.90,216.32 357.30,222.46 384.70,178.37 412.10,246.20" fill="none" stroke="#A50F12" stroke-width="1.9" stroke-linejoin="round"/>
<path d="M302.50,236.64L305.60,239.74L302.50,242.84L299.40,239.74Z" fill="#A50F12"/>
<path d="M329.90,213.22L333.00,216.32L329.90,219.42L326.80,216.32Z" fill="#A50F12"/>
<path d="M357.30,219.36L360.40,222.46L357.30,225.56L354.20,222.46Z" fill="#A50F12"/>
<path d="M384.70,175.27L387.80,178.37L384.70,181.47L381.60,178.37Z" fill="#A50F12"/>
<path d="M412.10,243.10L415.20,246.20L412.10,249.30L409.00,246.20Z" fill="#A50F12"/>
<circle cx="384.70" cy="157.40" r="1.35" fill="#111"/>
<text transform="translate(405.50,170.00)" font-size="9" fill="#222" stroke="#222" stroke-width="0.18" textLength="33.50" lengthAdjust="spacingAndGlyphs">*<tspan font-style="italic">P</tspan> = .0006</text>
<line x1="419.00" y1="215.75" x2="434.00" y2="215.75" stroke="#A50F12" stroke-width="1.4"/>
<path d="M426.50,213.95L428.30,215.75L426.50,217.55L424.70,215.75Z" fill="#A50F12"/>
<text transform="translate(434.50,218.50)" font-size="7.6" fill="#222" stroke="#222" stroke-width="0.18" textLength="57.50" lengthAdjust="spacingAndGlyphs">Carfilzomib (n=9)</text>
<line x1="31.60" y1="313.50" x2="31.60" y2="422.50" stroke="#111" stroke-width="1.3"/>
<line x1="31.00" y1="421.90" x2="180.00" y2="421.90" stroke="#111" stroke-width="1.3"/>
<line x1="29.60" y1="421.90" x2="31.60" y2="421.90" stroke="#111" stroke-width="1.0"/>
<text transform="translate(25.30,424.42)" font-size="7.0" fill="#262626" stroke="#262626" stroke-width="0.18" text-anchor="end">0</text>
<line x1="29.60" y1="406.50" x2="31.60" y2="406.50" stroke="#111" stroke-width="1.0"/>
<text transform="translate(25.30,409.02)" font-size="7.0" fill="#262626" stroke="#262626" stroke-width="0.18" text-anchor="end">2</text>
<line x1="29.60" y1="391.10" x2="31.60" y2="391.10" stroke="#111" stroke-width="1.0"/>
<text transform="translate(25.30,393.62)" font-size="7.0" fill="#262626" stroke="#262626" stroke-width="0.18" text-anchor="end">4</text>
<line x1="29.60" y1="375.70" x2="31.60" y2="375.70" stroke="#111" stroke-width="1.0"/>
<text transform="translate(25.30,378.22)" font-size="7.0" fill="#262626" stroke="#262626" stroke-width="0.18" text-anchor="end">6</text>
<line x1="29.60" y1="360.30" x2="31.60" y2="360.30" stroke="#111" stroke-width="1.0"/>
<text transform="translate(25.30,362.82)" font-size="7.0" fill="#262626" stroke="#262626" stroke-width="0.18" text-anchor="end">8</text>
<line x1="29.60" y1="344.90" x2="31.60" y2="344.90" stroke="#111" stroke-width="1.0"/>
<text transform="translate(25.30,347.42)" font-size="7.0" fill="#262626" stroke="#262626" stroke-width="0.18" text-anchor="end">10</text>
<line x1="29.60" y1="329.50" x2="31.60" y2="329.50" stroke="#111" stroke-width="1.0"/>
<text transform="translate(25.30,332.02)" font-size="7.0" fill="#262626" stroke="#262626" stroke-width="0.18" text-anchor="end">12</text>
<line x1="29.60" y1="314.10" x2="31.60" y2="314.10" stroke="#111" stroke-width="1.0"/>
<text transform="translate(25.30,316.62)" font-size="7.0" fill="#262626" stroke="#262626" stroke-width="0.18" text-anchor="end">14</text>
<line x1="46.00" y1="421.90" x2="46.00" y2="423.90" stroke="#111" stroke-width="1.0"/>
<line x1="75.75" y1="421.90" x2="75.75" y2="423.90" stroke="#111" stroke-width="1.0"/>
<line x1="105.50" y1="421.90" x2="105.50" y2="423.90" stroke="#111" stroke-width="1.0"/>
<line x1="135.25" y1="421.90" x2="135.25" y2="423.90" stroke="#111" stroke-width="1.0"/>
<line x1="165.00" y1="421.90" x2="165.00" y2="423.90" stroke="#111" stroke-width="1.0"/>
<text transform="translate(48.30,432.10) rotate(-45) scale(0.71,1)" font-size="8.3" fill="#1e1e1e" stroke="#1e1e1e" stroke-width="0.08" text-anchor="end" font-weight="bold">baseline</text>
<text transform="translate(78.05,432.10) rotate(-45) scale(0.71,1)" font-size="8.3" fill="#1e1e1e" stroke="#1e1e1e" stroke-width="0.08" text-anchor="end" font-weight="bold">12 h</text>
<text transform="translate(107.80,432.10) rotate(-45) scale(0.71,1)" font-size="8.3" fill="#1e1e1e" stroke="#1e1e1e" stroke-width="0.08" text-anchor="end" font-weight="bold">15 h</text>
<text transform="translate(137.55,432.10) rotate(-45) scale(0.71,1)" font-size="8.3" fill="#1e1e1e" stroke="#1e1e1e" stroke-width="0.08" text-anchor="end" font-weight="bold">18 h</text>
<text transform="translate(167.30,432.10) rotate(-45) scale(0.71,1)" font-size="8.3" fill="#1e1e1e" stroke="#1e1e1e" stroke-width="0.08" text-anchor="end" font-weight="bold">24 h</text>
<text transform="translate(12.30,368.00) rotate(-90)" font-size="8.2" fill="#111" stroke="#111" stroke-width="0.08" text-anchor="middle" font-weight="bold" textLength="58.75" lengthAdjust="spacingAndGlyphs">CFU/ml PB (x100)</text>
<text transform="translate(0.30,310.30)" font-size="15" fill="#000" stroke="#000" stroke-width="0.08" font-weight="bold">E</text>
<line x1="75.75" y1="390.33" x2="75.75" y2="376.47" stroke="#5B7FC0" stroke-width="1.0"/>
<line x1="74.25" y1="390.33" x2="77.25" y2="390.33" stroke="#5B7FC0" stroke-width="1.0"/>
<line x1="74.25" y1="376.47" x2="77.25" y2="376.47" stroke="#5B7FC0" stroke-width="1.0"/>
<line x1="105.50" y1="388.79" x2="105.50" y2="374.93" stroke="#5B7FC0" stroke-width="1.0"/>
<line x1="104.00" y1="388.79" x2="107.00" y2="388.79" stroke="#5B7FC0" stroke-width="1.0"/>
<line x1="104.00" y1="374.93" x2="107.00" y2="374.93" stroke="#5B7FC0" stroke-width="1.0"/>
<line x1="135.25" y1="381.86" x2="135.25" y2="373.39" stroke="#5B7FC0" stroke-width="1.0"/>
<line x1="133.75" y1="381.86" x2="136.75" y2="381.86" stroke="#5B7FC0" stroke-width="1.0"/>
<line x1="133.75" y1="373.39" x2="136.75" y2="373.39" stroke="#5B7FC0" stroke-width="1.0"/>
<line x1="165.00" y1="413.43" x2="165.00" y2="407.27" stroke="#5B7FC0" stroke-width="1.0"/>
<line x1="163.50" y1="413.43" x2="166.50" y2="413.43" stroke="#5B7FC0" stroke-width="1.0"/>
<line x1="163.50" y1="407.27" x2="166.50" y2="407.27" stroke="#5B7FC0" stroke-width="1.0"/>
<line x1="46.00" y1="364.15" x2="46.00" y2="347.98" stroke="#B04040" stroke-width="1.0"/>
<line x1="44.50" y1="364.15" x2="47.50" y2="364.15" stroke="#B04040" stroke-width="1.0"/>
<line x1="44.50" y1="347.98" x2="47.50" y2="347.98" stroke="#B04040" stroke-width="1.0"/>
<line x1="75.75" y1="381.09" x2="75.75" y2="373.39" stroke="#B04040" stroke-width="1.0"/>
<line x1="74.25" y1="381.09" x2="77.25" y2="381.09" stroke="#B04040" stroke-width="1.0"/>
<line x1="74.25" y1="373.39" x2="77.25" y2="373.39" stroke="#B04040" stroke-width="1.0"/>
<line x1="105.50" y1="386.48" x2="105.50" y2="377.24" stroke="#B04040" stroke-width="1.0"/>
<line x1="104.00" y1="386.48" x2="107.00" y2="386.48" stroke="#B04040" stroke-width="1.0"/>
<line x1="104.00" y1="377.24" x2="107.00" y2="377.24" stroke="#B04040" stroke-width="1.0"/>
<line x1="135.25" y1="375.70" x2="135.25" y2="366.46" stroke="#B04040" stroke-width="1.0"/>
<line x1="133.75" y1="375.70" x2="136.75" y2="375.70" stroke="#B04040" stroke-width="1.0"/>
<line x1="133.75" y1="366.46" x2="136.75" y2="366.46" stroke="#B04040" stroke-width="1.0"/>
<line x1="165.00" y1="379.55" x2="165.00" y2="370.31" stroke="#B04040" stroke-width="1.0"/>
<line x1="163.50" y1="379.55" x2="166.50" y2="379.55" stroke="#B04040" stroke-width="1.0"/>
<line x1="163.50" y1="370.31" x2="166.50" y2="370.31" stroke="#B04040" stroke-width="1.0"/>
<line x1="46.00" y1="379.55" x2="46.00" y2="367.23" stroke="#4F6228" stroke-width="1.0"/>
<line x1="44.50" y1="379.55" x2="47.50" y2="379.55" stroke="#4F6228" stroke-width="1.0"/>
<line x1="44.50" y1="367.23" x2="47.50" y2="367.23" stroke="#4F6228" stroke-width="1.0"/>
<line x1="75.75" y1="378.01" x2="75.75" y2="362.61" stroke="#4F6228" stroke-width="1.0"/>
<line x1="74.25" y1="378.01" x2="77.25" y2="378.01" stroke="#4F6228" stroke-width="1.0"/>
<line x1="74.25" y1="362.61" x2="77.25" y2="362.61" stroke="#4F6228" stroke-width="1.0"/>
<line x1="105.50" y1="376.47" x2="105.50" y2="362.61" stroke="#4F6228" stroke-width="1.0"/>
<line x1="104.00" y1="376.47" x2="107.00" y2="376.47" stroke="#4F6228" stroke-width="1.0"/>
<line x1="104.00" y1="362.61" x2="107.00" y2="362.61" stroke="#4F6228" stroke-width="1.0"/>
<line x1="135.25" y1="364.92" x2="135.25" y2="352.60" stroke="#4F6228" stroke-width="1.0"/>
<line x1="133.75" y1="364.92" x2="136.75" y2="364.92" stroke="#4F6228" stroke-width="1.0"/>
<line x1="133.75" y1="352.60" x2="136.75" y2="352.60" stroke="#4F6228" stroke-width="1.0"/>
<line x1="165.00" y1="378.78" x2="165.00" y2="365.69" stroke="#4F6228" stroke-width="1.0"/>
<line x1="163.50" y1="378.78" x2="166.50" y2="378.78" stroke="#4F6228" stroke-width="1.0"/>
<line x1="163.50" y1="365.69" x2="166.50" y2="365.69" stroke="#4F6228" stroke-width="1.0"/>
<polyline points="46.00,415.74 75.75,383.40 105.50,381.86 135.25,377.62 165.00,410.35" fill="none" stroke="#5B7FC0" stroke-width="1.7" stroke-linejoin="round"/>
<path d="M46.00,412.94L48.80,415.74L46.00,418.54L43.20,415.74Z" fill="#5B7FC0"/>
<path d="M75.75,380.60L78.55,383.40L75.75,386.20L72.95,383.40Z" fill="#5B7FC0"/>
<path d="M105.50,379.06L108.30,381.86L105.50,384.66L102.70,381.86Z" fill="#5B7FC0"/>
<path d="M135.25,374.82L138.05,377.62L135.25,380.43L132.45,377.62Z" fill="#5B7FC0"/>
<path d="M165.00,407.55L167.80,410.35L165.00,413.15L162.20,410.35Z" fill="#5B7FC0"/>
<polyline points="46.00,355.68 75.75,377.24 105.50,381.86 135.25,371.08 165.00,374.93" fill="none" stroke="#C0504D" stroke-width="1.7" stroke-linejoin="round"/>
<rect x="43.00" y="352.68" width="6.00" height="6.00" fill="#C0504D"/>
<rect x="72.75" y="374.24" width="6.00" height="6.00" fill="#C0504D"/>
<rect x="102.50" y="378.86" width="6.00" height="6.00" fill="#C0504D"/>
<rect x="132.25" y="368.08" width="6.00" height="6.00" fill="#C0504D"/>
<rect x="162.00" y="371.93" width="6.00" height="6.00" fill="#C0504D"/>
<polyline points="46.00,373.39 75.75,370.31 105.50,369.16 135.25,358.76 165.00,373.39" fill="none" stroke="#4F6228" stroke-width="1.7" stroke-linejoin="round"/>
<path d="M46.00,370.04L49.10,375.62L42.90,375.62Z" fill="#4F6228"/>
<path d="M75.75,366.96L78.85,372.54L72.65,372.54Z" fill="#4F6228"/>
<path d="M105.50,365.81L108.60,371.39L102.40,371.39Z" fill="#4F6228"/>
<path d="M135.25,355.41L138.35,360.99L132.15,360.99Z" fill="#4F6228"/>
<path d="M165.00,370.04L168.10,375.62L161.90,375.62Z" fill="#4F6228"/>
<circle cx="75.75" cy="357.50" r="1.35" fill="#111"/>
<circle cx="105.50" cy="357.50" r="1.35" fill="#111"/>
<circle cx="135.25" cy="346.70" r="1.35" fill="#111"/>
<text transform="translate(87.50,334.50)" font-size="8" fill="#222" stroke="#222" stroke-width="0.18" textLength="26.00" lengthAdjust="spacingAndGlyphs">*<tspan font-style="italic">P</tspan> &gt; .13</text>
<circle cx="176.75" cy="366.65" r="1.35" fill="#111"/>
<path d="M183.70,354.00H181.50V380.00H183.70" fill="none" stroke="#222" stroke-width="1.0"/>
<line x1="183.50" y1="355.00" x2="198.75" y2="355.00" stroke="#4F6228" stroke-width="1.3"/>
<path d="M191.00,352.73L193.10,356.51L188.90,356.51Z" fill="#4F6228"/>
<text transform="translate(200.00,357.50)" font-size="7.4" fill="#222" stroke="#222" stroke-width="0.18" textLength="41.00" lengthAdjust="spacingAndGlyphs">VLA4KO mice</text>
<text transform="translate(200.00,366.50)" font-size="7.4" fill="#222" stroke="#222" stroke-width="0.18" textLength="56.00" lengthAdjust="spacingAndGlyphs">bortezomib (n=10)</text>
<line x1="183.50" y1="377.50" x2="198.75" y2="377.50" stroke="#C0504D" stroke-width="1.3"/>
<rect x="188.90" y="375.40" width="4.20" height="4.20" fill="#C0504D"/>
<text transform="translate(200.00,380.00)" font-size="7.4" fill="#222" stroke="#222" stroke-width="0.18" textLength="41.00" lengthAdjust="spacingAndGlyphs">VLA4KO mice</text>
<text transform="translate(200.00,389.00)" font-size="7.4" fill="#222" stroke="#222" stroke-width="0.18" textLength="34.00" lengthAdjust="spacingAndGlyphs">PBS (n=10)</text>
<line x1="183.50" y1="400.75" x2="198.75" y2="400.75" stroke="#5B7FC0" stroke-width="1.3"/>
<path d="M191.00,398.95L192.80,400.75L191.00,402.55L189.20,400.75Z" fill="#5B7FC0"/>
<text transform="translate(200.00,403.25)" font-size="7.4" fill="#222" stroke="#222" stroke-width="0.18" textLength="24.00" lengthAdjust="spacingAndGlyphs">B6 mice</text>
<text transform="translate(200.00,412.00)" font-size="7.4" fill="#222" stroke="#222" stroke-width="0.18" textLength="56.00" lengthAdjust="spacingAndGlyphs">bortezomib (n=10)</text>
<line x1="289.80" y1="313.20" x2="289.80" y2="422.20" stroke="#111" stroke-width="1.3"/>
<line x1="289.20" y1="421.60" x2="437.00" y2="421.60" stroke="#111" stroke-width="1.3"/>
<line x1="287.80" y1="421.60" x2="289.80" y2="421.60" stroke="#111" stroke-width="1.0"/>
<text transform="translate(283.50,424.12)" font-size="7.0" fill="#262626" stroke="#262626" stroke-width="0.18" text-anchor="end">0</text>
<line x1="287.80" y1="409.62" x2="289.80" y2="409.62" stroke="#111" stroke-width="1.0"/>
<text transform="translate(283.50,412.14)" font-size="7.0" fill="#262626" stroke="#262626" stroke-width="0.18" text-anchor="end">1</text>
<line x1="287.80" y1="397.64" x2="289.80" y2="397.64" stroke="#111" stroke-width="1.0"/>
<text transform="translate(283.50,400.16)" font-size="7.0" fill="#262626" stroke="#262626" stroke-width="0.18" text-anchor="end">2</text>
<line x1="287.80" y1="385.67" x2="289.80" y2="385.67" stroke="#111" stroke-width="1.0"/>
<text transform="translate(283.50,388.19)" font-size="7.0" fill="#262626" stroke="#262626" stroke-width="0.18" text-anchor="end">3</text>
<line x1="287.80" y1="373.69" x2="289.80" y2="373.69" stroke="#111" stroke-width="1.0"/>
<text transform="translate(283.50,376.21)" font-size="7.0" fill="#262626" stroke="#262626" stroke-width="0.18" text-anchor="end">4</text>
<line x1="287.80" y1="361.71" x2="289.80" y2="361.71" stroke="#111" stroke-width="1.0"/>
<text transform="translate(283.50,364.23)" font-size="7.0" fill="#262626" stroke="#262626" stroke-width="0.18" text-anchor="end">5</text>
<line x1="287.80" y1="349.73" x2="289.80" y2="349.73" stroke="#111" stroke-width="1.0"/>
<text transform="translate(283.50,352.25)" font-size="7.0" fill="#262626" stroke="#262626" stroke-width="0.18" text-anchor="end">6</text>
<line x1="287.80" y1="337.76" x2="289.80" y2="337.76" stroke="#111" stroke-width="1.0"/>
<text transform="translate(283.50,340.28)" font-size="7.0" fill="#262626" stroke="#262626" stroke-width="0.18" text-anchor="end">7</text>
<line x1="287.80" y1="325.78" x2="289.80" y2="325.78" stroke="#111" stroke-width="1.0"/>
<text transform="translate(283.50,328.30)" font-size="7.0" fill="#262626" stroke="#262626" stroke-width="0.18" text-anchor="end">8</text>
<line x1="287.80" y1="313.80" x2="289.80" y2="313.80" stroke="#111" stroke-width="1.0"/>
<text transform="translate(283.50,316.32)" font-size="7.0" fill="#262626" stroke="#262626" stroke-width="0.18" text-anchor="end">9</text>
<line x1="304.25" y1="421.60" x2="304.25" y2="423.60" stroke="#111" stroke-width="1.0"/>
<line x1="333.75" y1="421.60" x2="333.75" y2="423.60" stroke="#111" stroke-width="1.0"/>
<line x1="363.25" y1="421.60" x2="363.25" y2="423.60" stroke="#111" stroke-width="1.0"/>
<line x1="392.75" y1="421.60" x2="392.75" y2="423.60" stroke="#111" stroke-width="1.0"/>
<line x1="422.25" y1="421.60" x2="422.25" y2="423.60" stroke="#111" stroke-width="1.0"/>
<text transform="translate(306.25,432.20) rotate(-45) scale(0.84,1)" font-size="8.3" fill="#1a1a1a" stroke="#1a1a1a" stroke-width="0.18" text-anchor="end">baseline</text>
<text transform="translate(335.75,432.20) rotate(-45) scale(0.84,1)" font-size="8.3" fill="#1a1a1a" stroke="#1a1a1a" stroke-width="0.18" text-anchor="end">12 h</text>
<text transform="translate(365.25,432.20) rotate(-45) scale(0.84,1)" font-size="8.3" fill="#1a1a1a" stroke="#1a1a1a" stroke-width="0.18" text-anchor="end">15 h</text>
<text transform="translate(394.75,432.20) rotate(-45) scale(0.84,1)" font-size="8.3" fill="#1a1a1a" stroke="#1a1a1a" stroke-width="0.18" text-anchor="end">18 h</text>
<text transform="translate(424.25,432.20) rotate(-45) scale(0.84,1)" font-size="8.3" fill="#1a1a1a" stroke="#1a1a1a" stroke-width="0.18" text-anchor="end">24 h</text>
<text transform="translate(273.50,370.00) rotate(-90)" font-size="8.2" fill="#111" stroke="#111" stroke-width="0.08" text-anchor="middle" font-weight="bold" textLength="88.50" lengthAdjust="spacingAndGlyphs">CFU-C/ml PB (x baseline)</text>
<text transform="translate(260.60,310.30)" font-size="15" fill="#000" stroke="#000" stroke-width="0.08" font-weight="bold">F</text>
<rect x="294.35" y="409.62" width="6.60" height="11.98" fill="#C0504D" stroke="#222" stroke-width="0.5"/>
<rect x="300.95" y="409.62" width="6.60" height="11.98" fill="#9BBB59" stroke="#222" stroke-width="0.5"/>
<rect x="307.55" y="409.62" width="6.60" height="11.98" fill="#4F81BD" stroke="#222" stroke-width="0.5"/>
<line x1="327.15" y1="413.81" x2="327.15" y2="412.62" stroke="#222" stroke-width="0.8"/>
<line x1="325.35" y1="412.62" x2="328.95" y2="412.62" stroke="#222" stroke-width="0.8"/>
<rect x="323.85" y="413.81" width="6.60" height="7.79" fill="#C0504D" stroke="#222" stroke-width="0.5"/>
<line x1="333.75" y1="408.42" x2="333.75" y2="406.63" stroke="#222" stroke-width="0.8"/>
<line x1="331.95" y1="406.63" x2="335.55" y2="406.63" stroke="#222" stroke-width="0.8"/>
<rect x="330.45" y="408.42" width="6.60" height="13.18" fill="#9BBB59" stroke="#222" stroke-width="0.5"/>
<line x1="340.35" y1="341.95" x2="340.35" y2="325.78" stroke="#222" stroke-width="0.8"/>
<line x1="338.55" y1="325.78" x2="342.15" y2="325.78" stroke="#222" stroke-width="0.8"/>
<rect x="337.05" y="341.95" width="6.60" height="79.65" fill="#4F81BD" stroke="#222" stroke-width="0.5"/>
<line x1="356.65" y1="414.41" x2="356.65" y2="413.22" stroke="#222" stroke-width="0.8"/>
<line x1="354.85" y1="413.22" x2="358.45" y2="413.22" stroke="#222" stroke-width="0.8"/>
<rect x="353.35" y="414.41" width="6.60" height="7.19" fill="#C0504D" stroke="#222" stroke-width="0.5"/>
<line x1="363.25" y1="408.42" x2="363.25" y2="406.63" stroke="#222" stroke-width="0.8"/>
<line x1="361.45" y1="406.63" x2="365.05" y2="406.63" stroke="#222" stroke-width="0.8"/>
<rect x="359.95" y="408.42" width="6.60" height="13.18" fill="#9BBB59" stroke="#222" stroke-width="0.5"/>
<line x1="369.85" y1="338.95" x2="369.85" y2="322.18" stroke="#222" stroke-width="0.8"/>
<line x1="368.05" y1="322.18" x2="371.65" y2="322.18" stroke="#222" stroke-width="0.8"/>
<rect x="366.55" y="338.95" width="6.60" height="82.65" fill="#4F81BD" stroke="#222" stroke-width="0.5"/>
<line x1="386.15" y1="412.02" x2="386.15" y2="410.82" stroke="#222" stroke-width="0.8"/>
<line x1="384.35" y1="410.82" x2="387.95" y2="410.82" stroke="#222" stroke-width="0.8"/>
<rect x="382.85" y="412.02" width="6.60" height="9.58" fill="#C0504D" stroke="#222" stroke-width="0.5"/>
<line x1="392.75" y1="406.03" x2="392.75" y2="404.23" stroke="#222" stroke-width="0.8"/>
<line x1="390.95" y1="404.23" x2="394.55" y2="404.23" stroke="#222" stroke-width="0.8"/>
<rect x="389.45" y="406.03" width="6.60" height="15.57" fill="#9BBB59" stroke="#222" stroke-width="0.5"/>
<line x1="399.35" y1="331.05" x2="399.35" y2="319.79" stroke="#222" stroke-width="0.8"/>
<line x1="397.55" y1="319.79" x2="401.15" y2="319.79" stroke="#222" stroke-width="0.8"/>
<rect x="396.05" y="331.05" width="6.60" height="90.55" fill="#4F81BD" stroke="#222" stroke-width="0.5"/>
<line x1="415.65" y1="412.86" x2="415.65" y2="411.42" stroke="#222" stroke-width="0.8"/>
<line x1="413.85" y1="411.42" x2="417.45" y2="411.42" stroke="#222" stroke-width="0.8"/>
<rect x="412.35" y="412.86" width="6.60" height="8.74" fill="#C0504D" stroke="#222" stroke-width="0.5"/>
<line x1="422.25" y1="409.14" x2="422.25" y2="407.23" stroke="#222" stroke-width="0.8"/>
<line x1="420.45" y1="407.23" x2="424.05" y2="407.23" stroke="#222" stroke-width="0.8"/>
<rect x="418.95" y="409.14" width="6.60" height="12.46" fill="#9BBB59" stroke="#222" stroke-width="0.5"/>
<line x1="428.85" y1="398.36" x2="428.85" y2="390.94" stroke="#222" stroke-width="0.8"/>
<line x1="427.05" y1="390.94" x2="430.65" y2="390.94" stroke="#222" stroke-width="0.8"/>
<rect x="425.55" y="398.36" width="6.60" height="23.24" fill="#4F81BD" stroke="#222" stroke-width="0.5"/>
<text transform="translate(417.50,342.50)" font-size="8.4" fill="#222" stroke="#222" stroke-width="0.18" textLength="18.75" lengthAdjust="spacingAndGlyphs"><tspan font-style="italic">P</tspan> = .2</text>
<text transform="translate(410.00,371.50)" font-size="8.4" fill="#222" stroke="#222" stroke-width="0.18" textLength="26.25" lengthAdjust="spacingAndGlyphs"><tspan font-style="italic">P</tspan> = .003</text>
<path d="M444.70,329.00H442.50V354.50H444.70" fill="none" stroke="#222" stroke-width="1.0"/>
<path d="M444.70,358.00H442.50V382.50H444.70" fill="none" stroke="#222" stroke-width="1.0"/>
<rect x="450.70" y="327.80" width="4.40" height="4.40" fill="#C0504D" stroke="#222" stroke-width="0.5"/>
<rect x="450.70" y="352.30" width="4.40" height="4.40" fill="#9BBB59" stroke="#222" stroke-width="0.5"/>
<rect x="450.70" y="376.05" width="4.40" height="4.40" fill="#4F81BD" stroke="#222" stroke-width="0.5"/>
<text transform="translate(457.00,332.50)" font-size="7.6" fill="#222" stroke="#222" stroke-width="0.18" textLength="43.00" lengthAdjust="spacingAndGlyphs">VLA4KO mice</text>
<text transform="translate(457.00,341.50)" font-size="7.6" fill="#222" stroke="#222" stroke-width="0.18" textLength="35.50" lengthAdjust="spacingAndGlyphs">PBS (n=10)</text>
<text transform="translate(457.00,356.75)" font-size="7.6" fill="#222" stroke="#222" stroke-width="0.18" textLength="43.00" lengthAdjust="spacingAndGlyphs">VLA4KO mice</text>
<text transform="translate(457.00,366.00)" font-size="7.6" fill="#222" stroke="#222" stroke-width="0.18" textLength="61.50" lengthAdjust="spacingAndGlyphs">bortezomib (n=10)</text>
<text transform="translate(457.00,380.50)" font-size="7.6" fill="#222" stroke="#222" stroke-width="0.18" textLength="48.50" lengthAdjust="spacingAndGlyphs">B6 bortezomib</text>
<text transform="translate(457.00,390.00)" font-size="7.6" fill="#222" stroke="#222" stroke-width="0.18" textLength="21.50" lengthAdjust="spacingAndGlyphs">(n=10)</text>
<line x1="31.60" y1="495.40" x2="31.60" y2="583.70" stroke="#151515" stroke-width="1.3"/>
<line x1="31.00" y1="583.10" x2="102.60" y2="583.10" stroke="#151515" stroke-width="1.3"/>
<line x1="27.80" y1="583.10" x2="31.60" y2="583.10" stroke="#151515" stroke-width="1.1"/>
<text transform="translate(27.70,585.50) scale(0.95,1)" font-size="6.6" fill="#222" stroke="#222" stroke-width="0.15" text-anchor="end">0</text>
<line x1="27.80" y1="561.33" x2="31.60" y2="561.33" stroke="#151515" stroke-width="1.1"/>
<text transform="translate(27.70,563.73) scale(0.95,1)" font-size="6.6" fill="#222" stroke="#222" stroke-width="0.15" text-anchor="end">20</text>
<line x1="27.80" y1="539.55" x2="31.60" y2="539.55" stroke="#151515" stroke-width="1.1"/>
<text transform="translate(27.70,541.95) scale(0.95,1)" font-size="6.6" fill="#222" stroke="#222" stroke-width="0.15" text-anchor="end">40</text>
<line x1="27.80" y1="517.77" x2="31.60" y2="517.77" stroke="#151515" stroke-width="1.1"/>
<text transform="translate(27.70,520.17) scale(0.95,1)" font-size="6.6" fill="#222" stroke="#222" stroke-width="0.15" text-anchor="end">60</text>
<line x1="27.80" y1="496.00" x2="31.60" y2="496.00" stroke="#151515" stroke-width="1.1"/>
<text transform="translate(27.70,498.40) scale(0.95,1)" font-size="6.6" fill="#222" stroke="#222" stroke-width="0.15" text-anchor="end">80</text>
<line x1="43.50" y1="583.10" x2="43.50" y2="586.40" stroke="#151515" stroke-width="1.1"/>
<line x1="67.30" y1="583.10" x2="67.30" y2="586.40" stroke="#151515" stroke-width="1.1"/>
<line x1="91.00" y1="583.10" x2="91.00" y2="586.40" stroke="#151515" stroke-width="1.1"/>
<text transform="translate(45.30,591.10) rotate(-45)" font-size="6.9" fill="#1a1a1a" stroke="#1a1a1a" stroke-width="0.15" text-anchor="end">PBS</text>
<text transform="translate(69.10,591.10) rotate(-45)" font-size="6.9" fill="#1a1a1a" stroke="#1a1a1a" stroke-width="0.15" text-anchor="end">Bortezomib</text>
<text transform="translate(92.80,591.10) rotate(-45)" font-size="6.9" fill="#1a1a1a" stroke="#1a1a1a" stroke-width="0.15" text-anchor="end">AMD3100</text>
<text transform="translate(13.60,539.20) rotate(-90)" font-size="7.4" fill="#1a1a1a" stroke="#1a1a1a" stroke-width="0.15" text-anchor="middle" textLength="71.80" lengthAdjust="spacingAndGlyphs">% CD45.2<tspan font-size="4.8" dy="-2.6">+</tspan><tspan dy="2.6"> donor cells</tspan></text>
<text transform="translate(0.30,472.70)" font-size="15" fill="#000" stroke="#000" stroke-width="0.07" font-weight="bold">G</text>
<text transform="translate(53.00,467.90)" font-size="7.8" fill="#111" stroke="#111" stroke-width="0.15" textLength="36.70" lengthAdjust="spacingAndGlyphs">Total WBC</text>
<text transform="translate(66.20,475.40)" font-size="6.4" fill="#333" stroke="#333" stroke-width="0.15" textLength="24.50" lengthAdjust="spacingAndGlyphs"><tspan font-style="italic">P</tspan> = 0.04</text>
<text transform="translate(54.30,485.40)" font-size="6.4" fill="#333" stroke="#333" stroke-width="0.15" textLength="28.00" lengthAdjust="spacingAndGlyphs"><tspan font-style="italic">P</tspan> = 0.001</text>
<text transform="translate(43.80,495.70)" font-size="6.4" fill="#333" stroke="#333" stroke-width="0.15" textLength="24.40" lengthAdjust="spacingAndGlyphs"><tspan font-style="italic">P</tspan> = 0.23</text>
<path d="M67.00,480.80V478.50H90.30V480.80" fill="none" stroke="#222" stroke-width="1.0"/>
<path d="M43.50,490.80V488.50H90.30V490.80" fill="none" stroke="#222" stroke-width="1.0"/>
<path d="M44.60,501.50V499.20H68.50V501.50" fill="none" stroke="#222" stroke-width="1.0"/>
<circle cx="43.50" cy="522.70" r="2.1" fill="none" stroke="#111" stroke-width="1.15"/>
<circle cx="43.50" cy="549.80" r="2.1" fill="none" stroke="#111" stroke-width="1.15"/>
<circle cx="39.80" cy="578.00" r="2.1" fill="none" stroke="#111" stroke-width="1.15"/>
<circle cx="43.70" cy="578.20" r="2.1" fill="none" stroke="#111" stroke-width="1.15"/>
<circle cx="48.00" cy="577.60" r="2.1" fill="none" stroke="#111" stroke-width="1.15"/>
<circle cx="41.80" cy="578.60" r="2.1" fill="none" stroke="#111" stroke-width="1.15"/>
<rect x="65.00" y="504.00" width="4.6" height="4.6" fill="none" stroke="#111" stroke-width="1.15"/>
<rect x="61.40" y="527.30" width="4.6" height="4.6" fill="none" stroke="#111" stroke-width="1.15"/>
<rect x="68.50" y="526.60" width="4.6" height="4.6" fill="none" stroke="#111" stroke-width="1.15"/>
<rect x="65.20" y="562.00" width="4.6" height="4.6" fill="none" stroke="#111" stroke-width="1.15"/>
<rect x="68.70" y="566.30" width="4.6" height="4.6" fill="none" stroke="#111" stroke-width="1.15"/>
<rect x="60.90" y="571.80" width="4.6" height="4.6" fill="none" stroke="#111" stroke-width="1.15"/>
<rect x="63.70" y="572.00" width="4.6" height="4.6" fill="none" stroke="#111" stroke-width="1.15"/>
<rect x="66.90" y="571.80" width="4.6" height="4.6" fill="none" stroke="#111" stroke-width="1.15"/>
<path d="M86.30,499.30L89.00,504.00L83.60,504.00Z" fill="none" stroke="#111" stroke-width="1.15"/>
<path d="M91.00,502.70L93.70,507.40L88.30,507.40Z" fill="none" stroke="#111" stroke-width="1.15"/>
<path d="M96.00,499.30L98.70,504.00L93.30,504.00Z" fill="none" stroke="#111" stroke-width="1.15"/>
<path d="M91.00,510.30L93.70,515.00L88.30,515.00Z" fill="none" stroke="#111" stroke-width="1.15"/>
<path d="M86.70,531.10L89.40,535.80L84.00,535.80Z" fill="none" stroke="#111" stroke-width="1.15"/>
<path d="M95.50,531.10L98.20,535.80L92.80,535.80Z" fill="none" stroke="#111" stroke-width="1.15"/>
<path d="M91.00,538.60L93.70,543.30L88.30,543.30Z" fill="none" stroke="#111" stroke-width="1.15"/>
<path d="M91.00,561.40L93.70,566.10L88.30,566.10Z" fill="none" stroke="#111" stroke-width="1.15"/>
<path d="M91,512.8L93.2,516.4L88.8,516.4Z" fill="#1a1a1a"/>
<line x1="35.90" y1="567.90" x2="51.10" y2="567.90" stroke="#111" stroke-width="1.25"/>
<line x1="43.50" y1="560.70" x2="43.50" y2="567.90" stroke="#111" stroke-width="1.25"/>
<line x1="39.60" y1="560.70" x2="47.40" y2="560.70" stroke="#111" stroke-width="1.25"/>
<line x1="59.70" y1="552.70" x2="74.90" y2="552.70" stroke="#111" stroke-width="1.25"/>
<line x1="67.30" y1="543.30" x2="67.30" y2="562.10" stroke="#111" stroke-width="1.25"/>
<line x1="63.40" y1="543.30" x2="71.20" y2="543.30" stroke="#111" stroke-width="1.25"/>
<line x1="63.40" y1="562.10" x2="71.20" y2="562.10" stroke="#111" stroke-width="1.25"/>
<line x1="83.40" y1="524.30" x2="98.60" y2="524.30" stroke="#111" stroke-width="1.25"/>
<line x1="91.00" y1="515.90" x2="91.00" y2="533.20" stroke="#111" stroke-width="1.25"/>
<line x1="87.10" y1="515.90" x2="94.90" y2="515.90" stroke="#111" stroke-width="1.25"/>
<line x1="87.10" y1="533.20" x2="94.90" y2="533.20" stroke="#111" stroke-width="1.25"/>
<line x1="289.30" y1="484.70" x2="289.30" y2="579.80" stroke="#111" stroke-width="1.3"/>
<line x1="288.70" y1="579.20" x2="423.75" y2="579.20" stroke="#111" stroke-width="1.3"/>
<line x1="287.30" y1="579.20" x2="289.30" y2="579.20" stroke="#111" stroke-width="1.0"/>
<text transform="translate(283.00,581.72)" font-size="7.0" fill="#262626" stroke="#262626" stroke-width="0.18" text-anchor="end">0</text>
<line x1="287.30" y1="565.79" x2="289.30" y2="565.79" stroke="#111" stroke-width="1.0"/>
<text transform="translate(283.00,568.31)" font-size="7.0" fill="#262626" stroke="#262626" stroke-width="0.18" text-anchor="end">10</text>
<line x1="287.30" y1="552.37" x2="289.30" y2="552.37" stroke="#111" stroke-width="1.0"/>
<text transform="translate(283.00,554.89)" font-size="7.0" fill="#262626" stroke="#262626" stroke-width="0.18" text-anchor="end">20</text>
<line x1="287.30" y1="538.96" x2="289.30" y2="538.96" stroke="#111" stroke-width="1.0"/>
<text transform="translate(283.00,541.48)" font-size="7.0" fill="#262626" stroke="#262626" stroke-width="0.18" text-anchor="end">30</text>
<line x1="287.30" y1="525.54" x2="289.30" y2="525.54" stroke="#111" stroke-width="1.0"/>
<text transform="translate(283.00,528.06)" font-size="7.0" fill="#262626" stroke="#262626" stroke-width="0.18" text-anchor="end">40</text>
<line x1="287.30" y1="512.13" x2="289.30" y2="512.13" stroke="#111" stroke-width="1.0"/>
<text transform="translate(283.00,514.65)" font-size="7.0" fill="#262626" stroke="#262626" stroke-width="0.18" text-anchor="end">50</text>
<line x1="287.30" y1="498.71" x2="289.30" y2="498.71" stroke="#111" stroke-width="1.0"/>
<text transform="translate(283.00,501.23)" font-size="7.0" fill="#262626" stroke="#262626" stroke-width="0.18" text-anchor="end">60</text>
<line x1="287.30" y1="485.30" x2="289.30" y2="485.30" stroke="#111" stroke-width="1.0"/>
<text transform="translate(283.00,487.82)" font-size="7.0" fill="#262626" stroke="#262626" stroke-width="0.18" text-anchor="end">70</text>
<line x1="300.60" y1="579.20" x2="300.60" y2="581.20" stroke="#111" stroke-width="1.0"/>
<line x1="322.98" y1="579.20" x2="322.98" y2="581.20" stroke="#111" stroke-width="1.0"/>
<line x1="345.36" y1="579.20" x2="345.36" y2="581.20" stroke="#111" stroke-width="1.0"/>
<line x1="367.74" y1="579.20" x2="367.74" y2="581.20" stroke="#111" stroke-width="1.0"/>
<line x1="390.12" y1="579.20" x2="390.12" y2="581.20" stroke="#111" stroke-width="1.0"/>
<line x1="412.50" y1="579.20" x2="412.50" y2="581.20" stroke="#111" stroke-width="1.0"/>
<text transform="translate(302.60,590.20) rotate(-45) scale(0.85,1)" font-size="8.0" fill="#1a1a1a" stroke="#1a1a1a" stroke-width="0.18" text-anchor="end">baseline</text>
<text transform="translate(324.98,590.20) rotate(-45) scale(0.85,1)" font-size="8.0" fill="#1a1a1a" stroke="#1a1a1a" stroke-width="0.18" text-anchor="end">D2</text>
<text transform="translate(347.36,590.20) rotate(-45) scale(0.85,1)" font-size="8.0" fill="#1a1a1a" stroke="#1a1a1a" stroke-width="0.18" text-anchor="end">D3</text>
<text transform="translate(369.74,590.20) rotate(-45) scale(0.85,1)" font-size="8.0" fill="#1a1a1a" stroke="#1a1a1a" stroke-width="0.18" text-anchor="end">D4</text>
<text transform="translate(392.12,590.20) rotate(-45) scale(0.85,1)" font-size="8.0" fill="#1a1a1a" stroke="#1a1a1a" stroke-width="0.18" text-anchor="end">D5</text>
<text transform="translate(414.50,590.20) rotate(-45) scale(0.85,1)" font-size="8.0" fill="#1a1a1a" stroke="#1a1a1a" stroke-width="0.18" text-anchor="end">D6</text>
<text transform="translate(271.50,532.50) rotate(-90)" font-size="8.2" fill="#111" stroke="#111" stroke-width="0.08" text-anchor="middle" font-weight="bold" textLength="70.00" lengthAdjust="spacingAndGlyphs">CFU/ml blood (x100)</text>
<text transform="translate(260.70,472.80)" font-size="15" fill="#000" stroke="#000" stroke-width="0.08" font-weight="bold">H</text>
<line x1="390.12" y1="512.40" x2="390.12" y2="494.29" stroke="#A02020" stroke-width="1.1"/>
<line x1="388.12" y1="512.40" x2="392.12" y2="512.40" stroke="#A02020" stroke-width="1.1"/>
<line x1="388.12" y1="494.29" x2="392.12" y2="494.29" stroke="#A02020" stroke-width="1.1"/>
<line x1="390.12" y1="553.04" x2="390.12" y2="543.92" stroke="#4F6228" stroke-width="1.0"/>
<line x1="388.62" y1="553.04" x2="391.62" y2="553.04" stroke="#4F6228" stroke-width="1.0"/>
<line x1="388.62" y1="543.92" x2="391.62" y2="543.92" stroke="#4F6228" stroke-width="1.0"/>
<polyline points="300.60,579.20 345.36,579.20 367.74,579.20 390.12,567.26 412.50,577.32" fill="none" stroke="#4A6FA5" stroke-width="1.4" stroke-linejoin="round"/>
<rect x="388.32" y="565.46" width="3.60" height="3.60" fill="#4A6FA5"/>
<rect x="410.70" y="575.52" width="3.60" height="3.60" fill="#4A6FA5"/>
<polyline points="300.60,579.20 345.36,567.26 367.74,558.41 390.12,549.42 412.50,570.61" fill="none" stroke="#4F6228" stroke-width="1.4" stroke-linejoin="round"/>
<path d="M300.60,576.50L303.10,581.00L298.10,581.00Z" fill="#4F6228"/>
<path d="M345.36,564.56L347.86,569.06L342.86,569.06Z" fill="#4F6228"/>
<path d="M367.74,555.71L370.24,560.21L365.24,560.21Z" fill="#4F6228"/>
<path d="M390.12,546.72L392.62,551.22L387.62,551.22Z" fill="#4F6228"/>
<path d="M412.50,567.91L415.00,572.41L410.00,572.41Z" fill="#4F6228"/>
<polyline points="300.60,579.20 345.36,565.38 367.74,552.51 390.12,503.81 412.50,575.71" fill="none" stroke="#C00000" stroke-width="1.5" stroke-linejoin="round"/>
<circle cx="345.36" cy="565.38" r="3.30" fill="#BE1420"/>
<circle cx="367.74" cy="552.51" r="3.30" fill="#BE1420"/>
<circle cx="390.12" cy="503.81" r="3.30" fill="#BE1420"/>
<circle cx="412.50" cy="575.71" r="3.30" fill="#BE1420"/>
<polyline points="300.60,579.20 345.36,579.20 367.74,579.20 390.12,578.66 412.50,579.20" fill="none" stroke="#5A2E9A" stroke-width="2.4" stroke-linejoin="round"/>
<rect x="297.80" y="576.40" width="5.60" height="5.60" fill="#6A3FB0"/>
<rect x="342.56" y="576.40" width="5.60" height="5.60" fill="#6A3FB0"/>
<rect x="364.94" y="576.40" width="5.60" height="5.60" fill="#6A3FB0"/>
<rect x="387.32" y="575.86" width="5.60" height="5.60" fill="#6A3FB0"/>
<rect x="409.70" y="576.40" width="5.60" height="5.60" fill="#6A3FB0"/>
<circle cx="390.12" cy="484.40" r="1.35" fill="#111"/>
<text transform="translate(399.50,516.50)" font-size="9" fill="#222" stroke="#222" stroke-width="0.18" textLength="30.00" lengthAdjust="spacingAndGlyphs">*<tspan font-style="italic">P</tspan> = .005</text>
<path d="M434.70,496.25H432.50V530.50H434.70" fill="none" stroke="#222" stroke-width="1.0"/>
<line x1="435.00" y1="503.00" x2="451.25" y2="503.00" stroke="#C00000" stroke-width="1.4"/>
<circle cx="443.00" cy="503.00" r="1.80" fill="#C00000"/>
<text transform="translate(452.00,505.50)" font-size="7.4" fill="#222" stroke="#222" stroke-width="0.18" textLength="55.00" lengthAdjust="spacingAndGlyphs">GCSF+Bortezomib</text>
<text transform="translate(452.00,514.50)" font-size="7.4" fill="#222" stroke="#222" stroke-width="0.18" textLength="20.00" lengthAdjust="spacingAndGlyphs">(n=10)</text>
<line x1="435.00" y1="523.00" x2="451.25" y2="523.00" stroke="#4F6228" stroke-width="1.4"/>
<path d="M443.00,520.95L444.90,524.37L441.10,524.37Z" fill="#4F6228"/>
<text transform="translate(452.00,525.50)" font-size="7.4" fill="#222" stroke="#222" stroke-width="0.18" textLength="34.00" lengthAdjust="spacingAndGlyphs">GCSF (n=5)</text>
<line x1="435.75" y1="543.25" x2="451.25" y2="543.25" stroke="#4A6FA5" stroke-width="1.4"/>
<rect x="441.30" y="541.55" width="3.40" height="3.40" fill="#4A6FA5"/>
<text transform="translate(452.00,545.75)" font-size="7.4" fill="#222" stroke="#222" stroke-width="0.18" textLength="53.00" lengthAdjust="spacingAndGlyphs">Bortezomib (n=5)</text>
<line x1="435.50" y1="564.50" x2="451.25" y2="564.50" stroke="#5A2E9A" stroke-width="1.6"/>
<rect x="441.00" y="562.50" width="4.00" height="4.00" fill="#6A3FB0"/>
<text transform="translate(452.00,567.00)" font-size="7.4" fill="#222" stroke="#222" stroke-width="0.18" textLength="29.50" lengthAdjust="spacingAndGlyphs">PBS (n=3)</text>
<line x1="28.50" y1="634.60" x2="28.50" y2="733.30" stroke="#111" stroke-width="1.3"/>
<line x1="27.90" y1="732.70" x2="170.00" y2="732.70" stroke="#111" stroke-width="1.3"/>
<line x1="26.50" y1="732.70" x2="28.50" y2="732.70" stroke="#111" stroke-width="1.0"/>
<text transform="translate(21.50,735.58)" font-size="8.0" fill="#262626" stroke="#262626" stroke-width="0.18" text-anchor="end">0</text>
<line x1="26.50" y1="708.33" x2="28.50" y2="708.33" stroke="#111" stroke-width="1.0"/>
<text transform="translate(21.50,711.21)" font-size="8.0" fill="#262626" stroke="#262626" stroke-width="0.18" text-anchor="end">10</text>
<line x1="26.50" y1="683.95" x2="28.50" y2="683.95" stroke="#111" stroke-width="1.0"/>
<text transform="translate(21.50,686.83)" font-size="8.0" fill="#262626" stroke="#262626" stroke-width="0.18" text-anchor="end">20</text>
<line x1="26.50" y1="659.58" x2="28.50" y2="659.58" stroke="#111" stroke-width="1.0"/>
<text transform="translate(21.50,662.46)" font-size="8.0" fill="#262626" stroke="#262626" stroke-width="0.18" text-anchor="end">30</text>
<line x1="26.50" y1="635.20" x2="28.50" y2="635.20" stroke="#111" stroke-width="1.0"/>
<text transform="translate(21.50,638.08)" font-size="8.0" fill="#262626" stroke="#262626" stroke-width="0.18" text-anchor="end">40</text>
<line x1="45.60" y1="732.70" x2="45.60" y2="734.70" stroke="#111" stroke-width="1.0"/>
<line x1="81.10" y1="732.70" x2="81.10" y2="734.70" stroke="#111" stroke-width="1.0"/>
<line x1="116.60" y1="732.70" x2="116.60" y2="734.70" stroke="#111" stroke-width="1.0"/>
<line x1="152.10" y1="732.70" x2="152.10" y2="734.70" stroke="#111" stroke-width="1.0"/>
<text transform="translate(48.20,744.00) rotate(-45) scale(0.85,1)" font-size="8.4" fill="#1a1a1a" stroke="#1a1a1a" stroke-width="0.18" text-anchor="end">baseline</text>
<text transform="translate(83.70,744.00) rotate(-45) scale(0.85,1)" font-size="8.4" fill="#1a1a1a" stroke="#1a1a1a" stroke-width="0.18" text-anchor="end">15 h</text>
<text transform="translate(119.20,744.00) rotate(-45) scale(0.85,1)" font-size="8.4" fill="#1a1a1a" stroke="#1a1a1a" stroke-width="0.18" text-anchor="end">18 h</text>
<text transform="translate(154.70,744.00) rotate(-45) scale(0.85,1)" font-size="8.4" fill="#1a1a1a" stroke="#1a1a1a" stroke-width="0.18" text-anchor="end">24 h</text>
<text transform="translate(7.10,679.00) rotate(-90)" font-size="8.2" fill="#111" stroke="#111" stroke-width="0.08" text-anchor="middle" font-weight="bold" textLength="77.00" lengthAdjust="spacingAndGlyphs">CFU-C/ml blood (x100)</text>
<text transform="translate(0.20,626.80)" font-size="15" fill="#000" stroke="#000" stroke-width="0.08" font-weight="bold">I</text>
<line x1="116.60" y1="678.34" x2="116.60" y2="658.84" stroke="#A02020" stroke-width="1.0"/>
<line x1="115.10" y1="678.34" x2="118.10" y2="678.34" stroke="#A02020" stroke-width="1.0"/>
<line x1="115.10" y1="658.84" x2="118.10" y2="658.84" stroke="#A02020" stroke-width="1.0"/>
<line x1="116.60" y1="710.76" x2="116.60" y2="701.99" stroke="#7AC143" stroke-width="1.0"/>
<line x1="115.10" y1="710.76" x2="118.10" y2="710.76" stroke="#7AC143" stroke-width="1.0"/>
<line x1="115.10" y1="701.99" x2="118.10" y2="701.99" stroke="#7AC143" stroke-width="1.0"/>
<line x1="81.10" y1="725.14" x2="81.10" y2="712.47" stroke="#60708F" stroke-width="1.0"/>
<line x1="79.60" y1="725.14" x2="82.60" y2="725.14" stroke="#60708F" stroke-width="1.0"/>
<line x1="79.60" y1="712.47" x2="82.60" y2="712.47" stroke="#60708F" stroke-width="1.0"/>
<line x1="116.60" y1="720.27" x2="116.60" y2="715.39" stroke="#6A8FCB" stroke-width="1.0"/>
<line x1="115.10" y1="720.27" x2="118.10" y2="720.27" stroke="#6A8FCB" stroke-width="1.0"/>
<line x1="115.10" y1="715.39" x2="118.10" y2="715.39" stroke="#6A8FCB" stroke-width="1.0"/>
<polyline points="45.60,732.70 81.10,718.08 116.60,668.84 152.10,729.29" fill="none" stroke="#B00000" stroke-width="1.7" stroke-linejoin="round"/>
<rect x="113.40" y="665.64" width="6.40" height="6.40" fill="#B00000"/>
<rect x="148.90" y="726.09" width="6.40" height="6.40" fill="#B00000"/>
<polyline points="45.60,732.70 81.10,730.51 116.60,707.59 152.10,732.70" fill="none" stroke="#7AC143" stroke-width="1.7" stroke-linejoin="round"/>
<path d="M45.60,729.35L48.70,734.93L42.50,734.93Z" fill="#7AC143"/>
<path d="M81.10,727.16L84.20,732.74L78.00,732.74Z" fill="#7AC143"/>
<path d="M116.60,704.25L119.70,709.83L113.50,709.83Z" fill="#7AC143"/>
<path d="M152.10,729.35L155.20,734.93L149.00,734.93Z" fill="#7AC143"/>
<polyline points="45.60,732.70 81.10,718.32 116.60,717.83 152.10,732.70" fill="none" stroke="#6A8FCB" stroke-width="1.7" stroke-linejoin="round"/>
<line x1="45.60" y1="732.70" x2="81.10" y2="718.20" stroke="#585A78" stroke-width="1.8"/>
<rect x="77.80" y="714.90" width="6.60" height="6.60" fill="#3E4170"/>
<path d="M45.60,729.90L48.40,732.70L45.60,735.50L42.80,732.70Z" fill="#6A8FCB"/>
<path d="M81.10,715.52L83.90,718.32L81.10,721.12L78.30,718.32Z" fill="#6A8FCB"/>
<path d="M116.60,715.03L119.40,717.83L116.60,720.63L113.80,717.83Z" fill="#6A8FCB"/>
<path d="M152.10,729.90L154.90,732.70L152.10,735.50L149.30,732.70Z" fill="#6A8FCB"/>
<rect x="42.30" y="729.40" width="6.60" height="6.60" fill="#8494B4"/>
<circle cx="116.60" cy="653.90" r="1.35" fill="#111"/>
<text transform="translate(128.30,677.70)" font-size="8.4" fill="#222" stroke="#222" stroke-width="0.18" textLength="25.60" lengthAdjust="spacingAndGlyphs">*<tspan font-style="italic">P</tspan> = .01</text>
<path d="M160.95,659.50H158.75V688.75H160.95" fill="none" stroke="#222" stroke-width="1.0"/>
<line x1="162.00" y1="663.00" x2="177.00" y2="663.00" stroke="#B00000" stroke-width="1.4"/>
<rect x="167.60" y="661.10" width="3.80" height="3.80" fill="#B00000"/>
<text transform="translate(177.50,665.50)" font-size="7.4" fill="#222" stroke="#222" stroke-width="0.18" textLength="73.00" lengthAdjust="spacingAndGlyphs">Bortezomib + AMD3100</text>
<text transform="translate(177.50,674.50)" font-size="7.4" fill="#222" stroke="#222" stroke-width="0.18" textLength="16.00" lengthAdjust="spacingAndGlyphs">(n=4)</text>
<line x1="162.00" y1="685.50" x2="177.00" y2="685.50" stroke="#7AC143" stroke-width="1.4"/>
<path d="M169.50,683.45L171.40,686.87L167.60,686.87Z" fill="#7AC143"/>
<text transform="translate(177.50,688.00)" font-size="7.4" fill="#222" stroke="#222" stroke-width="0.18" textLength="67.00" lengthAdjust="spacingAndGlyphs">PBS + AMD3100 (n=4)</text>
<line x1="162.00" y1="708.00" x2="177.00" y2="708.00" stroke="#6A8FCB" stroke-width="1.4"/>
<path d="M169.50,706.30L171.20,708.00L169.50,709.70L167.80,708.00Z" fill="#6A8FCB"/>
<text transform="translate(177.50,710.50)" font-size="7.4" fill="#222" stroke="#222" stroke-width="0.18" textLength="53.00" lengthAdjust="spacingAndGlyphs">Bortezomib (n=4)</text>
<line x1="291.80" y1="630.30" x2="291.80" y2="733.90" stroke="#111" stroke-width="1.3"/>
<line x1="291.20" y1="733.30" x2="424.60" y2="733.30" stroke="#111" stroke-width="1.3"/>
<line x1="289.80" y1="733.30" x2="291.80" y2="733.30" stroke="#111" stroke-width="1.0"/>
<text transform="translate(285.50,735.82)" font-size="7.0" fill="#262626" stroke="#262626" stroke-width="0.18" text-anchor="end">0</text>
<line x1="289.80" y1="718.67" x2="291.80" y2="718.67" stroke="#111" stroke-width="1.0"/>
<text transform="translate(285.50,721.19)" font-size="7.0" fill="#262626" stroke="#262626" stroke-width="0.18" text-anchor="end">20</text>
<line x1="289.80" y1="704.04" x2="291.80" y2="704.04" stroke="#111" stroke-width="1.0"/>
<text transform="translate(285.50,706.56)" font-size="7.0" fill="#262626" stroke="#262626" stroke-width="0.18" text-anchor="end">40</text>
<line x1="289.80" y1="689.41" x2="291.80" y2="689.41" stroke="#111" stroke-width="1.0"/>
<text transform="translate(285.50,691.93)" font-size="7.0" fill="#262626" stroke="#262626" stroke-width="0.18" text-anchor="end">60</text>
<line x1="289.80" y1="674.79" x2="291.80" y2="674.79" stroke="#111" stroke-width="1.0"/>
<text transform="translate(285.50,677.31)" font-size="7.0" fill="#262626" stroke="#262626" stroke-width="0.18" text-anchor="end">80</text>
<line x1="289.80" y1="660.16" x2="291.80" y2="660.16" stroke="#111" stroke-width="1.0"/>
<text transform="translate(285.50,662.68)" font-size="7.0" fill="#262626" stroke="#262626" stroke-width="0.18" text-anchor="end">100</text>
<line x1="289.80" y1="645.53" x2="291.80" y2="645.53" stroke="#111" stroke-width="1.0"/>
<text transform="translate(285.50,648.05)" font-size="7.0" fill="#262626" stroke="#262626" stroke-width="0.18" text-anchor="end">120</text>
<line x1="289.80" y1="630.90" x2="291.80" y2="630.90" stroke="#111" stroke-width="1.0"/>
<text transform="translate(285.50,633.42)" font-size="7.0" fill="#262626" stroke="#262626" stroke-width="0.18" text-anchor="end">140</text>
<line x1="314.50" y1="733.30" x2="314.50" y2="735.30" stroke="#111" stroke-width="1.0"/>
<line x1="359.00" y1="733.30" x2="359.00" y2="735.30" stroke="#111" stroke-width="1.0"/>
<line x1="403.00" y1="733.30" x2="403.00" y2="735.30" stroke="#111" stroke-width="1.0"/>
<text transform="translate(317.50,745.10) rotate(-45) scale(0.85,1)" font-size="8.8" fill="#1a1a1a" stroke="#1a1a1a" stroke-width="0.18" text-anchor="end">baseline</text>
<text transform="translate(362.00,745.10) rotate(-45) scale(0.85,1)" font-size="8.8" fill="#1a1a1a" stroke="#1a1a1a" stroke-width="0.18" text-anchor="end">18h</text>
<text transform="translate(406.00,745.10) rotate(-45) scale(0.85,1)" font-size="8.8" fill="#1a1a1a" stroke="#1a1a1a" stroke-width="0.18" text-anchor="end">24h</text>
<text transform="translate(270.90,682.00) rotate(-90)" font-size="8.2" fill="#111" stroke="#111" stroke-width="0.08" text-anchor="middle" font-weight="bold" textLength="97.00" lengthAdjust="spacingAndGlyphs">CFU-C/ml blood ( x baseline)</text>
<text transform="translate(262.20,627.00)" font-size="15" fill="#000" stroke="#000" stroke-width="0.08" font-weight="bold">J</text>
<rect x="300.20" y="732.42" width="28.80" height="0.88" fill="#222" stroke="none" stroke-width="0.6"/>
<line x1="348.85" y1="656.50" x2="348.85" y2="644.80" stroke="#222" stroke-width="0.8"/>
<line x1="346.85" y1="644.80" x2="350.85" y2="644.80" stroke="#222" stroke-width="0.8"/>
<rect x="343.80" y="656.50" width="10.10" height="76.80" fill="#B00000" stroke="#222" stroke-width="0.6"/>
<line x1="358.95" y1="720.06" x2="358.95" y2="718.31" stroke="#222" stroke-width="0.8"/>
<line x1="356.95" y1="718.31" x2="360.95" y2="718.31" stroke="#222" stroke-width="0.8"/>
<rect x="353.90" y="720.06" width="10.10" height="13.24" fill="#7AC143" stroke="#222" stroke-width="0.6"/>
<line x1="369.05" y1="723.65" x2="369.05" y2="721.96" stroke="#222" stroke-width="0.8"/>
<line x1="367.05" y1="721.96" x2="371.05" y2="721.96" stroke="#222" stroke-width="0.8"/>
<rect x="364.00" y="723.65" width="10.10" height="9.65" fill="#6A8FCB" stroke="#222" stroke-width="0.6"/>
<line x1="393.35" y1="728.18" x2="393.35" y2="726.28" stroke="#222" stroke-width="0.8"/>
<line x1="391.35" y1="726.28" x2="395.35" y2="726.28" stroke="#222" stroke-width="0.8"/>
<rect x="388.30" y="728.18" width="10.10" height="5.12" fill="#B00000" stroke="#222" stroke-width="0.6"/>
<text transform="translate(396.25,677.50)" font-size="8.4" fill="#222" stroke="#222" stroke-width="0.18" textLength="25.50" lengthAdjust="spacingAndGlyphs">*<tspan font-style="italic">P</tspan> = .01</text>
<line x1="428.00" y1="661.25" x2="428.00" y2="688.00" stroke="#222" stroke-width="0.9"/>
<line x1="428.00" y1="661.25" x2="430.00" y2="661.25" stroke="#222" stroke-width="0.9"/>
<line x1="428.00" y1="688.00" x2="430.00" y2="688.00" stroke="#222" stroke-width="0.9"/>
<rect x="433.80" y="661.85" width="3.80" height="3.80" fill="#B00000" stroke="#222" stroke-width="0.6"/>
<rect x="433.80" y="684.35" width="3.80" height="3.80" fill="#7AC143" stroke="#222" stroke-width="0.6"/>
<rect x="433.80" y="706.20" width="3.80" height="3.80" fill="#6A8FCB" stroke="#222" stroke-width="0.6"/>
<text transform="translate(440.00,666.00)" font-size="7.4" fill="#222" stroke="#222" stroke-width="0.18" textLength="72.50" lengthAdjust="spacingAndGlyphs">Bortezomib + AMD3100</text>
<text transform="translate(440.00,675.00)" font-size="7.4" fill="#222" stroke="#222" stroke-width="0.18" textLength="16.00" lengthAdjust="spacingAndGlyphs">(n=4)</text>
<text transform="translate(440.00,688.50)" font-size="7.4" fill="#222" stroke="#222" stroke-width="0.18" textLength="66.25" lengthAdjust="spacingAndGlyphs">PBS + AMD3100 (n=4)</text>
<text transform="translate(440.00,710.50)" font-size="7.4" fill="#222" stroke="#222" stroke-width="0.18" textLength="53.00" lengthAdjust="spacingAndGlyphs">Bortezomib (n=4)</text>
</svg></body></html>
